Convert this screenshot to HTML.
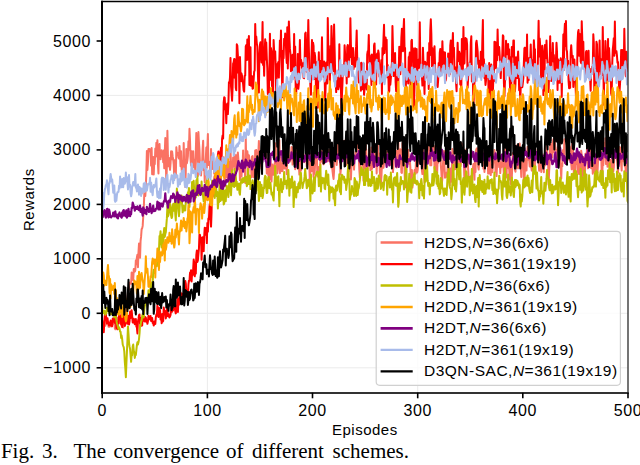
<!DOCTYPE html>
<html><head><meta charset="utf-8"><style>
html,body{margin:0;padding:0;background:#fff;}
body{width:640px;height:465px;position:relative;overflow:hidden;}
svg{position:absolute;left:0;top:0;}
.yl{position:absolute;right:549px;width:60px;text-align:right;font-family:"Liberation Sans",sans-serif;font-size:16px;letter-spacing:0.6px;line-height:19px;color:#000;}
.xl{position:absolute;top:400.5px;width:60px;text-align:center;font-family:"Liberation Sans",sans-serif;font-size:16px;letter-spacing:0.6px;line-height:19px;color:#000;}
.lt{position:absolute;left:424px;font-family:"Liberation Sans",sans-serif;font-size:15.5px;line-height:19px;color:#000;white-space:nowrap;letter-spacing:0.5px;}
.lt i{font-style:italic;}
.cw{position:absolute;top:439px;font-family:"Liberation Serif",serif;font-size:21px;line-height:24px;color:#000;white-space:nowrap;}
.lab{position:absolute;font-family:"Liberation Sans",sans-serif;font-size:15px;line-height:18px;color:#000;white-space:nowrap;}
</style></head><body>
<svg width="640" height="465" viewBox="0 0 640 465">
<defs><clipPath id="ax"><rect x="102.2" y="1.5" width="525.8" height="391.2"/></clipPath></defs>
<g stroke="#ebebeb" stroke-width="1">
<line x1="207.4" y1="1.5" x2="207.4" y2="392.7"/>
<line x1="417.7" y1="1.5" x2="417.7" y2="392.7"/>
<line x1="102.2" y1="367.8" x2="628" y2="367.8"/>
<line x1="102.2" y1="313.3" x2="628" y2="313.3"/>
<line x1="102.2" y1="258.8" x2="628" y2="258.8"/>
<line x1="102.2" y1="204.4" x2="628" y2="204.4"/>
<line x1="102.2" y1="95.4" x2="628" y2="95.4"/>
</g>
<g clip-path="url(#ax)" fill="none" stroke-linejoin="round" stroke-linecap="square">
<polyline points="102.20,322.4 102.73,321.7 103.25,321.3 103.78,329.3 104.30,324.0 104.83,320.2 105.35,325.8 105.88,322.9 106.41,321.4 106.93,323.3 107.46,322.0 107.98,323.5 108.51,326.7 109.04,325.8 109.56,326.8 110.09,322.4 110.61,323.0 111.14,323.2 111.66,326.4 112.19,321.6 112.72,323.7 113.24,323.8 113.77,319.4 114.29,319.2 114.82,328.3 115.34,329.3 115.87,324.9 116.40,324.2 116.92,321.9 117.45,322.7 117.97,317.7 118.50,320.1 119.03,323.4 119.55,316.9 120.08,317.4 120.60,316.9 121.13,323.1 121.65,326.2 122.18,323.5 122.71,322.3 123.23,327.5 123.76,323.4 124.28,323.7 124.81,320.1 125.34,317.0 125.86,311.3 126.39,308.5 126.91,302.6 127.44,298.0 127.96,292.0 128.49,287.8 129.02,289.8 129.54,282.8 130.07,282.6 130.59,282.1 131.12,283.7 131.64,272.5 132.17,273.7 132.70,278.4 133.22,280.3 133.75,269.0 134.27,271.7 134.80,271.5 135.33,270.3 135.85,260.3 136.38,264.2 136.90,257.2 137.43,254.7 137.95,267.2 138.48,252.3 139.01,243.6 139.53,248.3 140.06,257.8 140.58,240.8 141.11,236.4 141.63,229.1 142.16,228.4 142.69,225.9 143.21,217.0 143.74,210.5 144.26,194.5 144.79,186.5 145.32,195.9 145.84,186.5 146.37,171.2 146.89,150.9 147.42,170.0 147.94,162.6 148.47,149.0 149.00,151.4 149.52,149.0 150.05,149.5 150.57,152.0 151.10,165.6 151.63,148.0 152.15,174.3 152.68,167.4 153.20,156.9 153.73,174.5 154.25,161.9 154.78,164.3 155.31,148.5 155.83,156.6 156.36,142.8 156.88,145.8 157.41,140.3 157.93,164.2 158.46,173.5 158.99,145.3 159.51,144.0 160.04,157.7 160.56,159.3 161.09,152.9 161.62,150.3 162.14,156.6 162.67,152.8 163.19,162.2 163.72,150.5 164.24,168.2 164.77,152.6 165.30,138.0 165.82,162.9 166.35,183.9 166.87,166.0 167.40,130.8 167.93,155.9 168.45,166.3 168.98,157.9 169.50,164.5 170.03,169.8 170.55,163.4 171.08,151.3 171.61,159.3 172.13,151.5 172.66,156.4 173.18,159.1 173.71,164.5 174.23,176.4 174.76,160.2 175.29,170.7 175.81,177.6 176.34,147.2 176.86,153.1 177.39,154.1 177.92,153.0 178.44,157.5 178.97,158.5 179.49,145.9 180.02,155.9 180.54,166.2 181.07,151.3 181.60,168.5 182.12,176.0 182.65,161.0 183.17,174.8 183.70,143.0 184.22,166.9 184.75,161.5 185.28,186.9 185.80,170.4 186.33,148.9 186.85,163.4 187.38,160.3 187.91,156.0 188.43,141.2 188.96,149.7 189.48,128.8 190.01,140.4 190.53,158.2 191.06,165.6 191.59,151.3 192.11,162.5 192.64,159.1 193.16,151.2 193.69,167.2 194.22,159.6 194.74,162.1 195.27,171.6 195.79,151.5 196.32,132.9 196.84,154.7 197.37,146.5 197.90,176.0 198.42,132.0 198.95,142.3 199.47,150.0 200.00,164.6 200.52,163.2 201.05,175.5 201.58,165.3 202.10,163.1 202.63,149.0 203.15,140.8 203.68,170.2 204.21,162.5 204.73,182.3 205.26,163.2 205.78,159.1 206.31,147.6 206.83,167.7 207.36,148.4 207.89,134.1 208.41,165.1 208.94,161.6 209.46,163.2 209.99,165.0 210.51,176.4 211.04,149.1 211.57,168.0 212.09,169.0 212.62,161.1 213.14,163.8 213.67,165.7 214.20,173.6 214.72,167.2 215.25,171.2 215.77,163.2 216.30,172.2 216.82,165.7 217.35,164.5 217.88,161.5 218.40,154.6 218.93,156.0 219.45,160.7 219.98,169.9 220.50,170.9 221.03,173.9 221.56,161.7 222.08,162.3 222.61,165.8 223.13,168.0 223.66,157.3 224.19,169.0 224.71,186.5 225.24,163.0 225.76,158.9 226.29,177.6 226.81,153.4 227.34,170.8 227.87,178.2 228.39,163.3 228.92,164.0 229.44,161.8 229.97,175.4 230.50,150.9 231.02,162.8 231.55,175.7 232.07,169.8 232.60,170.1 233.12,157.5 233.65,166.5 234.18,160.6 234.70,154.8 235.23,168.5 235.75,156.9 236.28,155.4 236.80,167.1 237.33,157.0 237.86,152.6 238.38,159.1 238.91,169.5 239.43,162.8 239.96,180.1 240.49,174.6 241.01,165.9 241.54,176.6 242.06,164.1 242.59,167.0 243.11,150.4 243.64,166.1 244.17,169.0 244.69,161.8 245.22,183.1 245.74,136.0 246.27,166.1 246.80,166.0 247.32,151.2 247.85,156.4 248.37,176.9 248.90,155.2 249.42,158.6 249.95,167.3 250.48,161.6 251.00,164.1 251.53,177.3 252.05,156.7 252.58,156.0 253.10,163.1 253.63,177.3 254.16,168.7 254.68,176.4 255.21,150.5 255.73,155.1 256.26,150.1 256.79,164.3 257.31,153.4 257.84,159.8 258.36,152.6 258.89,140.9 259.41,156.1 259.94,165.4 260.47,161.3 260.99,164.9 261.52,168.6 262.04,165.0 262.57,158.0 263.09,155.1 263.62,156.3 264.15,158.5 264.67,146.4 265.20,153.2 265.72,142.7 266.25,157.5 266.78,173.5 267.30,158.8 267.83,162.8 268.35,175.3 268.88,167.5 269.40,179.8 269.93,155.1 270.46,158.6 270.98,167.5 271.51,181.6 272.03,169.1 272.56,164.6 273.09,170.4 273.61,174.8 274.14,166.7 274.66,164.7 275.19,158.4 275.71,143.2 276.24,163.5 276.77,159.6 277.29,173.3 277.82,169.3 278.34,164.6 278.87,151.5 279.39,140.2 279.92,173.2 280.45,157.4 280.97,171.1 281.50,162.9 282.02,171.3 282.55,170.9 283.08,160.5 283.60,162.9 284.13,154.4 284.65,168.6 285.18,164.9 285.70,162.9 286.23,160.8 286.76,174.3 287.28,156.2 287.81,161.8 288.33,144.8 288.86,157.7 289.38,155.4 289.91,161.7 290.44,158.2 290.96,159.4 291.49,147.1 292.01,147.2 292.54,164.6 293.07,163.8 293.59,158.7 294.12,149.6 294.64,153.6 295.17,169.3 295.69,156.8 296.22,144.3 296.75,150.1 297.27,162.8 297.80,168.6 298.32,149.3 298.85,165.3 299.38,174.6 299.90,166.8 300.43,158.6 300.95,170.7 301.48,152.2 302.00,159.1 302.53,148.8 303.06,155.6 303.58,154.9 304.11,162.3 304.63,158.3 305.16,158.3 305.68,158.3 306.21,146.3 306.74,166.4 307.26,163.8 307.79,157.0 308.31,161.8 308.84,161.8 309.37,167.1 309.89,182.5 310.42,167.3 310.94,153.4 311.47,171.3 311.99,156.0 312.52,171.0 313.05,159.5 313.57,176.9 314.10,143.0 314.62,173.8 315.15,161.9 315.67,152.5 316.20,140.7 316.73,150.5 317.25,171.1 317.78,176.4 318.30,167.0 318.83,173.4 319.36,168.9 319.88,174.2 320.41,158.6 320.93,150.9 321.46,161.5 321.98,150.5 322.51,158.4 323.04,163.2 323.56,164.3 324.09,159.8 324.61,156.3 325.14,153.7 325.67,159.4 326.19,145.6 326.72,161.5 327.24,155.9 327.77,161.2 328.29,150.4 328.82,159.7 329.35,149.6 329.87,149.2 330.40,163.9 330.92,165.2 331.45,167.8 331.97,163.5 332.50,170.9 333.03,175.5 333.55,178.9 334.08,171.0 334.60,152.2 335.13,144.2 335.66,149.6 336.18,153.8 336.71,165.0 337.23,157.5 337.76,146.9 338.28,140.9 338.81,149.8 339.34,154.3 339.86,155.0 340.39,174.6 340.91,168.2 341.44,157.1 341.96,158.0 342.49,142.9 343.02,151.6 343.54,141.3 344.07,142.4 344.59,153.5 345.12,140.4 345.65,148.9 346.17,156.7 346.70,164.8 347.22,155.7 347.75,158.4 348.27,162.7 348.80,159.7 349.33,150.2 349.85,170.9 350.38,167.1 350.90,179.4 351.43,166.6 351.96,161.2 352.48,157.5 353.01,159.5 353.53,159.7 354.06,169.6 354.58,159.0 355.11,157.9 355.64,151.6 356.16,152.6 356.69,135.4 357.21,146.8 357.74,144.9 358.26,146.0 358.79,157.4 359.32,169.2 359.84,177.7 360.37,158.9 360.89,156.5 361.42,162.9 361.95,159.9 362.47,165.2 363.00,155.0 363.52,180.7 364.05,163.8 364.57,161.2 365.10,168.2 365.63,138.7 366.15,155.1 366.68,167.1 367.20,181.0 367.73,159.7 368.25,166.1 368.78,149.3 369.31,151.4 369.83,150.5 370.36,170.2 370.88,167.5 371.41,147.4 371.94,168.9 372.46,167.5 372.99,162.1 373.51,156.8 374.04,152.3 374.56,145.6 375.09,165.7 375.62,154.8 376.14,154.3 376.67,173.4 377.19,151.2 377.72,138.5 378.25,157.7 378.77,161.3 379.30,153.6 379.82,171.2 380.35,179.4 380.87,185.6 381.40,177.1 381.93,165.1 382.45,155.7 382.98,160.9 383.50,167.7 384.03,162.6 384.55,137.4 385.08,145.1 385.61,143.6 386.13,147.2 386.66,151.9 387.18,158.1 387.71,158.6 388.24,157.9 388.76,151.2 389.29,152.1 389.81,165.3 390.34,162.1 390.86,154.6 391.39,162.2 391.92,164.7 392.44,165.0 392.97,172.1 393.49,165.4 394.02,143.6 394.54,143.0 395.07,155.0 395.60,153.2 396.12,151.0 396.65,167.4 397.17,160.4 397.70,150.3 398.23,135.8 398.75,158.0 399.28,164.0 399.80,162.2 400.33,149.3 400.85,153.7 401.38,172.5 401.91,172.9 402.43,143.6 402.96,141.8 403.48,147.8 404.01,155.6 404.54,170.1 405.06,187.5 405.59,186.1 406.11,176.4 406.64,163.0 407.16,153.7 407.69,161.4 408.22,150.1 408.74,155.8 409.27,163.9 409.79,158.7 410.32,167.1 410.84,181.4 411.37,185.5 411.90,169.9 412.42,187.6 412.95,177.8 413.47,175.1 414.00,182.8 414.53,170.4 415.05,169.6 415.58,173.8 416.10,154.4 416.63,151.6 417.15,172.6 417.68,170.1 418.21,162.2 418.73,145.1 419.26,149.8 419.78,154.6 420.31,150.8 420.83,151.6 421.36,158.0 421.89,170.0 422.41,174.0 422.94,144.4 423.46,165.1 423.99,169.9 424.52,182.5 425.04,163.2 425.57,158.6 426.09,155.8 426.62,145.1 427.14,153.5 427.67,155.1 428.20,141.9 428.72,142.5 429.25,160.7 429.77,159.2 430.30,165.3 430.82,157.5 431.35,165.2 431.88,135.0 432.40,135.0 432.93,155.2 433.45,150.1 433.98,146.1 434.51,168.1 435.03,170.4 435.56,154.1 436.08,161.3 436.61,170.2 437.13,173.0 437.66,159.0 438.19,162.9 438.71,158.6 439.24,153.5 439.76,156.9 440.29,143.7 440.82,165.5 441.34,171.7 441.87,183.4 442.39,178.1 442.92,165.2 443.44,156.9 443.97,150.9 444.50,166.4 445.02,177.7 445.55,174.8 446.07,174.3 446.60,172.4 447.12,177.2 447.65,166.8 448.18,153.6 448.70,175.3 449.23,171.6 449.75,185.7 450.28,168.6 450.81,169.9 451.33,181.7 451.86,167.9 452.38,149.1 452.91,161.8 453.43,151.8 453.96,158.3 454.49,169.5 455.01,164.9 455.54,162.3 456.06,169.0 456.59,158.6 457.12,159.1 457.64,164.7 458.17,158.2 458.69,163.7 459.22,152.1 459.74,164.3 460.27,155.3 460.80,165.9 461.32,143.0 461.85,156.4 462.37,144.2 462.90,157.4 463.42,159.2 463.95,164.5 464.48,183.4 465.00,179.7 465.53,163.7 466.05,152.3 466.58,148.8 467.11,159.6 467.63,160.9 468.16,169.1 468.68,177.5 469.21,178.9 469.73,179.0 470.26,179.5 470.79,176.3 471.31,187.2 471.84,186.3 472.36,169.3 472.89,168.2 473.41,164.0 473.94,165.4 474.47,179.7 474.99,154.2 475.52,172.0 476.04,150.4 476.57,148.9 477.10,148.2 477.62,156.9 478.15,166.5 478.67,169.6 479.20,160.8 479.72,155.7 480.25,150.1 480.78,146.6 481.30,143.2 481.83,156.0 482.35,143.6 482.88,164.1 483.41,168.6 483.93,162.7 484.46,172.0 484.98,162.7 485.51,151.9 486.03,142.2 486.56,154.1 487.09,149.9 487.61,157.3 488.14,173.6 488.66,163.1 489.19,158.5 489.71,173.5 490.24,157.2 490.77,175.1 491.29,164.8 491.82,171.4 492.34,172.1 492.87,165.7 493.40,161.2 493.92,156.3 494.45,150.0 494.97,154.2 495.50,171.7 496.02,167.0 496.55,176.1 497.08,163.7 497.60,149.0 498.13,150.0 498.65,160.1 499.18,167.1 499.70,158.5 500.23,173.1 500.76,164.8 501.28,167.3 501.81,162.1 502.33,166.4 502.86,154.3 503.39,165.1 503.91,175.1 504.44,163.7 504.96,152.6 505.49,147.9 506.01,158.8 506.54,177.4 507.07,150.7 507.59,151.1 508.12,156.5 508.64,168.5 509.17,168.7 509.70,179.6 510.22,165.2 510.75,184.0 511.27,176.5 511.80,179.4 512.32,162.6 512.85,153.1 513.38,153.5 513.90,153.8 514.43,157.0 514.95,169.9 515.48,171.7 516.00,156.6 516.53,160.8 517.06,145.2 517.58,166.3 518.11,168.4 518.63,165.5 519.16,148.7 519.69,143.5 520.21,154.6 520.74,166.1 521.26,176.9 521.79,159.1 522.31,159.3 522.84,165.6 523.37,157.7 523.89,186.9 524.42,187.0 524.94,164.5 525.47,158.9 525.99,161.1 526.52,170.5 527.05,154.5 527.57,146.7 528.10,159.8 528.62,153.3 529.15,159.4 529.68,166.4 530.20,156.4 530.73,159.3 531.25,166.1 531.78,170.6 532.30,164.1 532.83,169.1 533.36,157.5 533.88,151.4 534.41,152.9 534.93,165.9 535.46,159.0 535.99,154.5 536.51,158.3 537.04,155.0 537.56,149.3 538.09,154.2 538.61,162.1 539.14,170.8 539.67,162.2 540.19,149.3 540.72,149.3 541.24,171.9 541.77,162.5 542.29,166.2 542.82,166.2 543.35,162.7 543.87,172.3 544.40,153.9 544.92,165.4 545.45,151.5 545.98,155.1 546.50,143.9 547.03,148.6 547.55,161.1 548.08,160.8 548.60,184.7 549.13,171.5 549.66,162.5 550.18,144.4 550.71,143.1 551.23,159.7 551.76,154.6 552.28,157.2 552.81,142.8 553.34,139.2 553.86,152.2 554.39,134.4 554.91,140.8 555.44,147.3 555.97,150.2 556.49,150.2 557.02,150.0 557.54,165.1 558.07,146.9 558.59,158.3 559.12,143.6 559.65,142.1 560.17,165.4 560.70,166.8 561.22,178.6 561.75,163.4 562.28,166.1 562.80,150.3 563.33,157.7 563.85,155.2 564.38,139.3 564.90,163.0 565.43,161.6 565.96,161.0 566.48,164.1 567.01,161.1 567.53,147.3 568.06,143.7 568.58,141.3 569.11,159.7 569.64,146.3 570.16,148.4 570.69,162.2 571.21,163.4 571.74,169.3 572.27,138.7 572.79,142.8 573.32,159.4 573.84,173.3 574.37,158.0 574.89,173.4 575.42,173.1 575.95,154.7 576.47,163.9 577.00,149.1 577.52,152.8 578.05,172.8 578.57,164.0 579.10,174.1 579.63,167.1 580.15,156.6 580.68,170.9 581.20,150.7 581.73,155.2 582.26,179.8 582.78,158.1 583.31,157.1 583.83,175.1 584.36,161.6 584.88,179.0 585.41,153.7 585.94,157.9 586.46,159.3 586.99,148.3 587.51,161.8 588.04,168.3 588.57,147.8 589.09,154.8 589.62,151.4 590.14,149.2 590.67,161.5 591.19,168.2 591.72,155.4 592.25,157.8 592.77,173.7 593.30,167.9 593.82,172.1 594.35,163.1 594.87,163.2 595.40,158.6 595.93,172.6 596.45,160.3 596.98,159.1 597.50,172.1 598.03,162.0 598.56,156.8 599.08,153.4 599.61,138.2 600.13,147.7 600.66,143.2 601.18,152.7 601.71,174.1 602.24,176.7 602.76,160.4 603.29,165.1 603.81,152.7 604.34,142.7 604.86,154.5 605.39,138.3 605.92,163.9 606.44,151.1 606.97,153.7 607.49,166.7 608.02,160.1 608.55,163.1 609.07,154.8 609.60,168.1 610.12,164.1 610.65,160.1 611.17,168.9 611.70,167.0 612.23,174.2 612.75,154.3 613.28,171.3 613.80,167.4 614.33,157.0 614.86,150.3 615.38,155.5 615.91,147.1 616.43,134.2 616.96,157.9 617.48,166.3 618.01,172.6 618.54,161.9 619.06,151.9 619.59,147.1 620.11,147.4 620.64,157.8 621.16,164.1 621.69,170.6 622.22,138.5 622.74,141.5 623.27,150.0 623.79,161.5 624.32,160.9 624.85,166.3 625.37,163.3 625.90,180.3 626.42,167.4 626.95,165.7 627.47,161.2 628.00,155.6" stroke="#fa7263" stroke-width="2.0"/>
<polyline points="102.20,325.8 102.73,324.6 103.25,322.5 103.78,332.3 104.30,321.3 104.83,315.0 105.35,319.7 105.88,314.4 106.41,320.4 106.93,323.5 107.46,318.2 107.98,321.7 108.51,322.7 109.04,325.6 109.56,322.8 110.09,325.0 110.61,320.6 111.14,325.7 111.66,323.7 112.19,326.2 112.72,318.8 113.24,318.3 113.77,321.4 114.29,318.3 114.82,322.8 115.34,319.6 115.87,315.3 116.40,327.9 116.92,327.9 117.45,329.3 117.97,321.7 118.50,323.1 119.03,314.0 119.55,313.9 120.08,318.1 120.60,319.0 121.13,324.4 121.65,315.8 122.18,327.1 122.71,322.7 123.23,319.9 123.76,313.5 124.28,317.7 124.81,325.9 125.34,324.0 125.86,317.2 126.39,320.4 126.91,316.1 127.44,323.7 127.96,317.6 128.49,315.7 129.02,324.5 129.54,321.3 130.07,311.5 130.59,317.9 131.12,315.8 131.64,310.3 132.17,316.2 132.70,322.4 133.22,322.4 133.75,318.7 134.27,322.5 134.80,324.1 135.33,321.8 135.85,319.0 136.38,326.4 136.90,327.7 137.43,333.5 137.95,321.5 138.48,318.9 139.01,315.2 139.53,314.6 140.06,324.0 140.58,317.9 141.11,318.6 141.63,325.8 142.16,325.4 142.69,317.8 143.21,319.3 143.74,316.9 144.26,321.0 144.79,321.4 145.32,317.1 145.84,317.6 146.37,321.8 146.89,320.8 147.42,323.8 147.94,321.2 148.47,315.7 149.00,316.5 149.52,317.0 150.05,319.5 150.57,316.1 151.10,321.0 151.63,318.0 152.15,318.1 152.68,323.0 153.20,322.8 153.73,325.6 154.25,321.6 154.78,324.2 155.31,323.9 155.83,317.1 156.36,314.6 156.88,315.8 157.41,305.3 157.93,313.2 158.46,316.9 158.99,307.7 159.51,315.9 160.04,310.0 160.56,319.5 161.09,315.1 161.62,323.3 162.14,314.1 162.67,321.7 163.19,321.0 163.72,307.5 164.24,310.8 164.77,310.6 165.30,313.9 165.82,318.4 166.35,314.7 166.87,309.5 167.40,307.6 167.93,316.3 168.45,314.0 168.98,316.5 169.50,317.4 170.03,316.3 170.55,315.0 171.08,308.0 171.61,304.3 172.13,311.7 172.66,310.3 173.18,310.3 173.71,297.0 174.23,303.7 174.76,303.4 175.29,311.4 175.81,313.4 176.34,305.9 176.86,311.6 177.39,299.4 177.92,312.0 178.44,298.5 178.97,304.7 179.49,296.5 180.02,298.2 180.54,292.7 181.07,301.1 181.60,293.8 182.12,300.0 182.65,298.4 183.17,293.4 183.70,295.5 184.22,289.1 184.75,283.1 185.28,280.9 185.80,283.6 186.33,292.7 186.85,289.6 187.38,293.1 187.91,297.3 188.43,284.6 188.96,280.7 189.48,280.7 190.01,272.8 190.53,272.5 191.06,270.2 191.59,281.5 192.11,273.0 192.64,275.2 193.16,269.3 193.69,259.6 194.22,263.2 194.74,276.3 195.27,271.8 195.79,273.6 196.32,255.2 196.84,250.5 197.37,261.9 197.90,260.2 198.42,254.0 198.95,248.6 199.47,234.6 200.00,235.1 200.52,240.2 201.05,237.7 201.58,259.8 202.10,244.2 202.63,237.2 203.15,237.9 203.68,251.3 204.21,236.2 204.73,227.7 205.26,228.4 205.78,234.7 206.31,228.1 206.83,243.1 207.36,223.1 207.89,231.6 208.41,218.6 208.94,219.2 209.46,206.9 209.99,202.7 210.51,218.4 211.04,226.6 211.57,212.1 212.09,188.9 212.62,196.6 213.14,187.9 213.67,188.0 214.20,181.3 214.72,175.9 215.25,179.2 215.77,185.8 216.30,166.9 216.82,158.1 217.35,168.7 217.88,154.8 218.40,151.5 218.93,161.7 219.45,174.1 219.98,152.5 220.50,152.4 221.03,147.5 221.56,162.7 222.08,138.8 222.61,135.5 223.13,138.5 223.66,102.6 224.19,97.3 224.71,97.8 225.24,109.3 225.76,107.4 226.29,123.2 226.81,104.8 227.34,103.5 227.87,114.1 228.39,104.3 228.92,82.2 229.44,83.1 229.97,77.7 230.50,57.9 231.02,86.5 231.55,92.4 232.07,100.7 232.60,87.0 233.12,63.6 233.65,62.3 234.18,58.9 234.70,77.7 235.23,59.5 235.75,87.8 236.28,90.2 236.80,44.3 237.33,45.6 237.86,54.7 238.38,72.7 238.91,62.0 239.43,103.3 239.96,57.0 240.49,74.0 241.01,81.1 241.54,73.6 242.06,75.9 242.59,81.7 243.11,83.8 243.64,90.4 244.17,91.6 244.69,75.9 245.22,75.5 245.74,46.4 246.27,45.1 246.80,60.1 247.32,39.4 247.85,59.2 248.37,47.5 248.90,36.0 249.42,85.0 249.95,59.8 250.48,47.2 251.00,85.7 251.53,81.7 252.05,76.3 252.58,88.7 253.10,88.2 253.63,79.9 254.16,71.6 254.68,70.5 255.21,23.9 255.73,42.9 256.26,36.5 256.79,43.3 257.31,46.7 257.84,70.3 258.36,89.2 258.89,92.5 259.41,53.9 259.94,44.7 260.47,42.3 260.99,54.6 261.52,62.5 262.04,51.2 262.57,22.0 263.09,65.0 263.62,57.4 264.15,75.8 264.67,51.5 265.20,39.2 265.72,59.4 266.25,42.6 266.78,57.9 267.30,68.0 267.83,93.9 268.35,84.6 268.88,92.6 269.40,69.7 269.93,33.8 270.46,79.8 270.98,48.1 271.51,51.2 272.03,86.3 272.56,65.7 273.09,96.5 273.61,40.0 274.14,51.5 274.66,51.2 275.19,51.4 275.71,67.0 276.24,98.1 276.77,77.4 277.29,63.9 277.82,63.8 278.34,62.1 278.87,77.6 279.39,59.1 279.92,40.4 280.45,55.4 280.97,30.6 281.50,58.2 282.02,80.2 282.55,97.2 283.08,50.7 283.60,58.3 284.13,38.8 284.65,44.3 285.18,33.6 285.70,37.4 286.23,54.6 286.76,62.9 287.28,27.3 287.81,68.6 288.33,46.4 288.86,21.4 289.38,37.6 289.91,48.4 290.44,53.8 290.96,71.3 291.49,68.5 292.01,68.5 292.54,54.7 293.07,78.9 293.59,76.5 294.12,34.1 294.64,71.4 295.17,46.4 295.69,88.8 296.22,93.8 296.75,69.7 297.27,78.8 297.80,54.1 298.32,88.8 298.85,83.9 299.38,66.5 299.90,40.1 300.43,64.7 300.95,59.7 301.48,62.3 302.00,68.2 302.53,68.3 303.06,63.3 303.58,77.9 304.11,78.2 304.63,59.5 305.16,33.7 305.68,32.6 306.21,47.8 306.74,71.8 307.26,51.3 307.79,46.6 308.31,20.0 308.84,46.9 309.37,69.6 309.89,72.6 310.42,86.1 310.94,94.8 311.47,57.0 311.99,39.9 312.52,70.0 313.05,42.7 313.57,45.9 314.10,79.1 314.62,52.8 315.15,56.8 315.67,71.3 316.20,107.3 316.73,62.3 317.25,84.8 317.78,107.8 318.30,77.8 318.83,52.2 319.36,77.3 319.88,60.8 320.41,67.4 320.93,78.4 321.46,67.7 321.98,37.3 322.51,74.1 323.04,67.1 323.56,76.7 324.09,61.5 324.61,75.1 325.14,100.7 325.67,85.0 326.19,62.5 326.72,63.0 327.24,83.5 327.77,18.0 328.29,48.5 328.82,53.5 329.35,55.5 329.87,83.5 330.40,46.0 330.92,62.8 331.45,26.1 331.97,40.1 332.50,69.7 333.03,58.2 333.55,71.3 334.08,24.5 334.60,48.3 335.13,72.0 335.66,80.0 336.18,92.1 336.71,81.2 337.23,77.8 337.76,87.2 338.28,89.3 338.81,86.6 339.34,44.2 339.86,86.2 340.39,69.1 340.91,88.9 341.44,108.1 341.96,94.9 342.49,82.8 343.02,65.6 343.54,64.6 344.07,70.6 344.59,45.2 345.12,53.7 345.65,62.9 346.17,61.0 346.70,83.5 347.22,47.3 347.75,44.9 348.27,70.9 348.80,76.8 349.33,45.9 349.85,57.2 350.38,18.3 350.90,44.6 351.43,52.6 351.96,64.1 352.48,58.2 353.01,47.9 353.53,69.1 354.06,64.6 354.58,57.8 355.11,66.6 355.64,51.9 356.16,46.4 356.69,30.5 357.21,58.8 357.74,63.0 358.26,73.6 358.79,82.5 359.32,80.6 359.84,63.2 360.37,64.1 360.89,90.7 361.42,62.7 361.95,74.8 362.47,89.3 363.00,71.2 363.52,63.4 364.05,94.8 364.57,88.4 365.10,71.7 365.63,81.3 366.15,77.6 366.68,89.5 367.20,54.3 367.73,51.2 368.25,52.0 368.78,34.9 369.31,62.8 369.83,55.3 370.36,73.6 370.88,66.2 371.41,85.0 371.94,54.5 372.46,63.5 372.99,68.5 373.51,81.1 374.04,45.2 374.56,43.4 375.09,60.5 375.62,84.5 376.14,84.6 376.67,54.8 377.19,53.5 377.72,66.0 378.25,50.6 378.77,53.7 379.30,76.4 379.82,68.3 380.35,71.1 380.87,65.9 381.40,60.1 381.93,93.9 382.45,48.0 382.98,54.6 383.50,38.0 384.03,24.7 384.55,53.0 385.08,42.7 385.61,37.4 386.13,49.0 386.66,39.8 387.18,77.2 387.71,65.0 388.24,69.7 388.76,92.0 389.29,91.0 389.81,69.0 390.34,84.7 390.86,78.1 391.39,69.3 391.92,62.8 392.44,26.1 392.97,48.8 393.49,76.1 394.02,63.6 394.54,66.7 395.07,53.1 395.60,82.0 396.12,91.1 396.65,77.2 397.17,78.0 397.70,103.7 398.23,85.0 398.75,69.1 399.28,46.7 399.80,49.0 400.33,74.2 400.85,55.5 401.38,37.6 401.91,28.7 402.43,48.4 402.96,51.2 403.48,29.7 404.01,19.0 404.54,49.4 405.06,47.9 405.59,92.1 406.11,79.2 406.64,73.7 407.16,81.1 407.69,75.2 408.22,83.5 408.74,56.9 409.27,58.1 409.79,52.5 410.32,78.6 410.84,93.2 411.37,40.9 411.90,39.8 412.42,61.6 412.95,48.3 413.47,76.3 414.00,107.3 414.53,87.2 415.05,48.2 415.58,71.6 416.10,76.3 416.63,49.0 417.15,84.9 417.68,60.5 418.21,59.8 418.73,68.0 419.26,63.3 419.78,22.2 420.31,62.0 420.83,69.8 421.36,69.5 421.89,75.3 422.41,85.6 422.94,47.7 423.46,62.8 423.99,77.6 424.52,94.0 425.04,61.7 425.57,62.9 426.09,77.6 426.62,65.0 427.14,76.4 427.67,52.7 428.20,52.2 428.72,89.0 429.25,42.9 429.77,55.3 430.30,30.2 430.82,19.3 431.35,34.0 431.88,66.3 432.40,48.1 432.93,65.7 433.45,55.7 433.98,66.7 434.51,46.3 435.03,64.5 435.56,85.7 436.08,73.5 436.61,79.6 437.13,76.4 437.66,86.9 438.19,79.6 438.71,63.1 439.24,71.1 439.76,52.7 440.29,49.0 440.82,57.9 441.34,72.4 441.87,60.6 442.39,41.2 442.92,57.0 443.44,64.1 443.97,52.3 444.50,52.5 445.02,52.5 445.55,80.7 446.07,78.5 446.60,65.5 447.12,70.5 447.65,69.8 448.18,53.4 448.70,64.8 449.23,73.7 449.75,74.2 450.28,45.7 450.81,40.4 451.33,63.7 451.86,70.6 452.38,46.4 452.91,33.1 453.43,56.2 453.96,47.8 454.49,72.0 455.01,71.7 455.54,67.4 456.06,83.0 456.59,91.2 457.12,63.7 457.64,42.8 458.17,61.3 458.69,59.7 459.22,51.7 459.74,53.5 460.27,84.5 460.80,81.7 461.32,88.3 461.85,39.1 462.37,53.2 462.90,70.2 463.42,27.0 463.95,56.8 464.48,63.4 465.00,43.9 465.53,38.1 466.05,48.9 466.58,39.0 467.11,44.9 467.63,87.6 468.16,78.0 468.68,65.3 469.21,68.4 469.73,62.6 470.26,66.4 470.79,42.9 471.31,36.3 471.84,81.5 472.36,76.7 472.89,79.0 473.41,109.7 473.94,91.2 474.47,82.3 474.99,80.0 475.52,72.4 476.04,43.1 476.57,40.7 477.10,45.8 477.62,51.1 478.15,64.0 478.67,60.6 479.20,74.2 479.72,64.7 480.25,74.7 480.78,51.7 481.30,52.6 481.83,64.7 482.35,40.4 482.88,20.0 483.41,70.7 483.93,59.3 484.46,77.9 484.98,75.2 485.51,84.9 486.03,80.5 486.56,70.4 487.09,72.8 487.61,67.4 488.14,68.9 488.66,100.1 489.19,63.0 489.71,78.6 490.24,98.6 490.77,73.0 491.29,64.6 491.82,99.7 492.34,82.7 492.87,92.7 493.40,76.0 493.92,81.3 494.45,41.7 494.97,45.8 495.50,42.2 496.02,68.2 496.55,50.3 497.08,60.3 497.60,29.4 498.13,51.2 498.65,54.8 499.18,47.0 499.70,55.6 500.23,68.1 500.76,78.1 501.28,62.1 501.81,65.3 502.33,53.0 502.86,35.3 503.39,36.2 503.91,83.0 504.44,96.5 504.96,81.5 505.49,67.2 506.01,40.7 506.54,49.6 507.07,54.3 507.59,49.3 508.12,44.0 508.64,59.7 509.17,49.2 509.70,77.9 510.22,92.8 510.75,56.9 511.27,87.4 511.80,46.9 512.32,50.6 512.85,56.6 513.38,40.5 513.90,40.6 514.43,84.5 514.95,91.5 515.48,82.9 516.00,57.3 516.53,71.3 517.06,78.1 517.58,60.9 518.11,51.5 518.63,68.2 519.16,90.3 519.69,78.2 520.21,104.5 520.74,86.0 521.26,86.7 521.79,83.6 522.31,87.2 522.84,82.8 523.37,77.9 523.89,62.0 524.42,48.1 524.94,47.6 525.47,59.4 525.99,72.6 526.52,67.8 527.05,34.4 527.57,82.7 528.10,58.1 528.62,80.3 529.15,70.7 529.68,58.0 530.20,62.4 530.73,44.5 531.25,63.2 531.78,59.9 532.30,63.1 532.83,67.5 533.36,65.2 533.88,40.3 534.41,50.7 534.93,49.1 535.46,82.2 535.99,79.1 536.51,86.0 537.04,75.8 537.56,83.6 538.09,46.7 538.61,20.7 539.14,56.4 539.67,38.6 540.19,45.5 540.72,64.9 541.24,82.3 541.77,56.5 542.29,45.7 542.82,50.5 543.35,95.1 543.87,87.1 544.40,90.8 544.92,45.0 545.45,50.0 545.98,57.9 546.50,40.6 547.03,56.2 547.55,63.2 548.08,63.3 548.60,92.0 549.13,72.6 549.66,65.8 550.18,36.3 550.71,73.0 551.23,80.9 551.76,52.7 552.28,59.1 552.81,42.9 553.34,61.5 553.86,54.9 554.39,68.5 554.91,73.8 555.44,70.6 555.97,59.4 556.49,42.8 557.02,52.0 557.54,89.9 558.07,59.3 558.59,61.1 559.12,82.8 559.65,82.8 560.17,65.8 560.70,58.3 561.22,60.9 561.75,97.1 562.28,66.8 562.80,65.1 563.33,34.5 563.85,70.1 564.38,34.1 564.90,23.7 565.43,46.0 565.96,21.0 566.48,49.5 567.01,51.8 567.53,66.4 568.06,60.8 568.58,81.1 569.11,88.2 569.64,88.0 570.16,87.8 570.69,52.5 571.21,45.2 571.74,54.5 572.27,57.3 572.79,55.9 573.32,86.9 573.84,71.9 574.37,59.5 574.89,69.6 575.42,80.7 575.95,96.7 576.47,87.4 577.00,79.4 577.52,43.4 578.05,32.2 578.57,29.9 579.10,55.7 579.63,33.8 580.15,42.1 580.68,61.7 581.20,63.2 581.73,21.2 582.26,38.4 582.78,66.4 583.31,41.7 583.83,67.8 584.36,63.4 584.88,67.7 585.41,79.5 585.94,52.2 586.46,51.0 586.99,62.2 587.51,61.8 588.04,73.8 588.57,50.8 589.09,72.2 589.62,78.6 590.14,78.7 590.67,90.7 591.19,68.7 591.72,73.0 592.25,66.7 592.77,69.5 593.30,34.2 593.82,43.0 594.35,97.3 594.87,86.5 595.40,90.9 595.93,64.6 596.45,41.8 596.98,44.1 597.50,93.8 598.03,72.3 598.56,78.0 599.08,57.5 599.61,40.5 600.13,71.3 600.66,59.0 601.18,74.3 601.71,64.4 602.24,75.1 602.76,27.0 603.29,58.3 603.81,104.7 604.34,61.1 604.86,70.0 605.39,41.0 605.92,65.6 606.44,83.0 606.97,56.0 607.49,54.4 608.02,38.9 608.55,81.1 609.07,48.0 609.60,60.3 610.12,67.3 610.65,71.1 611.17,93.5 611.70,95.6 612.23,64.1 612.75,49.7 613.28,44.6 613.80,38.2 614.33,55.7 614.86,21.6 615.38,52.7 615.91,52.5 616.43,51.2 616.96,55.7 617.48,62.7 618.01,62.0 618.54,75.1 619.06,86.5 619.59,91.2 620.11,82.3 620.64,74.3 621.16,50.0 621.69,78.7 622.22,50.1 622.74,58.8 623.27,67.5 623.79,65.8 624.32,28.7 624.85,55.5 625.37,72.4 625.90,76.3 626.42,51.8 626.95,74.2 627.47,72.6 628.00,64.4" stroke="#ff0000" stroke-width="2.0"/>
<polyline points="102.20,306.4 102.73,313.2 103.25,311.4 103.78,313.1 104.30,310.8 104.83,311.1 105.35,314.8 105.88,312.8 106.41,313.2 106.93,307.7 107.46,309.2 107.98,310.7 108.51,311.2 109.04,311.7 109.56,313.8 110.09,314.1 110.61,312.4 111.14,314.1 111.66,313.4 112.19,313.2 112.72,315.0 113.24,312.8 113.77,313.5 114.29,317.3 114.82,316.9 115.34,317.5 115.87,316.6 116.40,320.1 116.92,323.6 117.45,324.6 117.97,327.0 118.50,329.1 119.03,327.3 119.55,328.8 120.08,331.6 120.60,331.9 121.13,337.9 121.65,335.6 122.18,339.2 122.71,344.5 123.23,346.0 123.76,347.4 124.28,351.4 124.81,361.8 125.34,368.4 125.86,377.3 126.39,363.6 126.91,352.1 127.44,340.6 127.96,326.4 128.49,333.5 129.02,342.6 129.54,346.5 130.07,348.9 130.59,355.4 131.12,361.8 131.64,354.3 132.17,355.3 132.70,346.3 133.22,344.5 133.75,350.5 134.27,352.5 134.80,357.9 135.33,353.9 135.85,355.0 136.38,350.0 136.90,345.1 137.43,342.3 137.95,344.6 138.48,342.3 139.01,339.1 139.53,333.4 140.06,325.0 140.58,325.4 141.11,321.4 141.63,320.5 142.16,316.1 142.69,314.2 143.21,314.1 143.74,317.4 144.26,310.1 144.79,306.2 145.32,304.7 145.84,300.3 146.37,299.3 146.89,300.7 147.42,300.4 147.94,300.1 148.47,290.3 149.00,296.1 149.52,294.6 150.05,290.0 150.57,288.1 151.10,282.4 151.63,284.5 152.15,288.3 152.68,282.3 153.20,272.7 153.73,269.7 154.25,272.9 154.78,273.0 155.31,264.6 155.83,265.8 156.36,264.7 156.88,266.2 157.41,259.5 157.93,259.7 158.46,251.5 158.99,250.2 159.51,236.1 160.04,237.1 160.56,231.2 161.09,243.2 161.62,247.4 162.14,241.4 162.67,234.5 163.19,246.3 163.72,232.8 164.24,228.1 164.77,236.9 165.30,234.0 165.82,232.2 166.35,225.1 166.87,218.4 167.40,206.0 167.93,216.5 168.45,215.1 168.98,212.3 169.50,201.5 170.03,204.3 170.55,205.4 171.08,215.4 171.61,218.1 172.13,216.9 172.66,207.5 173.18,204.0 173.71,207.5 174.23,210.8 174.76,202.5 175.29,214.2 175.81,220.4 176.34,204.3 176.86,188.6 177.39,196.6 177.92,205.8 178.44,211.3 178.97,216.2 179.49,210.3 180.02,201.5 180.54,200.4 181.07,202.2 181.60,195.5 182.12,205.4 182.65,212.3 183.17,205.5 183.70,205.8 184.22,210.6 184.75,210.6 185.28,210.4 185.80,201.4 186.33,195.9 186.85,199.4 187.38,202.5 187.91,192.3 188.43,192.6 188.96,188.0 189.48,206.9 190.01,195.4 190.53,196.5 191.06,197.9 191.59,190.7 192.11,181.9 192.64,188.6 193.16,194.6 193.69,180.7 194.22,190.9 194.74,195.4 195.27,189.4 195.79,197.5 196.32,180.3 196.84,183.4 197.37,176.2 197.90,189.4 198.42,195.4 198.95,192.0 199.47,189.8 200.00,192.9 200.52,191.7 201.05,194.2 201.58,181.6 202.10,193.9 202.63,190.3 203.15,196.9 203.68,201.3 204.21,201.0 204.73,202.6 205.26,192.8 205.78,184.7 206.31,182.3 206.83,181.3 207.36,177.9 207.89,177.7 208.41,182.1 208.94,191.5 209.46,199.9 209.99,186.6 210.51,201.0 211.04,187.9 211.57,189.4 212.09,180.6 212.62,188.2 213.14,193.0 213.67,190.6 214.20,191.3 214.72,197.9 215.25,189.7 215.77,187.1 216.30,189.7 216.82,196.1 217.35,192.0 217.88,208.5 218.40,200.5 218.93,202.4 219.45,187.6 219.98,176.6 220.50,201.0 221.03,189.0 221.56,196.4 222.08,199.7 222.61,189.2 223.13,188.4 223.66,204.4 224.19,203.7 224.71,192.0 225.24,190.2 225.76,201.2 226.29,191.9 226.81,185.7 227.34,193.8 227.87,193.4 228.39,197.0 228.92,186.5 229.44,178.9 229.97,183.7 230.50,190.4 231.02,195.2 231.55,184.2 232.07,170.3 232.60,184.0 233.12,186.0 233.65,184.5 234.18,187.0 234.70,168.9 235.23,186.0 235.75,175.6 236.28,183.7 236.80,181.8 237.33,189.8 237.86,184.1 238.38,186.9 238.91,183.5 239.43,192.9 239.96,194.8 240.49,185.4 241.01,182.0 241.54,179.2 242.06,179.3 242.59,182.7 243.11,177.9 243.64,181.9 244.17,181.4 244.69,179.4 245.22,177.0 245.74,176.6 246.27,181.4 246.80,186.2 247.32,184.3 247.85,169.1 248.37,180.4 248.90,184.0 249.42,183.9 249.95,175.5 250.48,189.1 251.00,182.6 251.53,184.0 252.05,185.3 252.58,180.3 253.10,182.6 253.63,183.8 254.16,186.8 254.68,196.8 255.21,190.6 255.73,178.9 256.26,190.7 256.79,172.7 257.31,176.7 257.84,174.6 258.36,186.0 258.89,201.0 259.41,195.8 259.94,182.1 260.47,191.7 260.99,196.0 261.52,184.8 262.04,192.3 262.57,198.1 263.09,194.8 263.62,187.4 264.15,188.1 264.67,178.1 265.20,175.8 265.72,176.5 266.25,187.8 266.78,193.1 267.30,192.9 267.83,181.1 268.35,176.9 268.88,177.2 269.40,188.3 269.93,182.6 270.46,183.0 270.98,188.7 271.51,194.4 272.03,192.4 272.56,195.6 273.09,197.8 273.61,200.6 274.14,188.1 274.66,181.4 275.19,165.9 275.71,173.7 276.24,185.7 276.77,178.6 277.29,177.2 277.82,189.9 278.34,176.2 278.87,189.1 279.39,206.3 279.92,187.9 280.45,189.5 280.97,179.1 281.50,186.8 282.02,192.2 282.55,182.5 283.08,189.0 283.60,184.0 284.13,171.9 284.65,180.1 285.18,184.0 285.70,183.2 286.23,181.0 286.76,188.5 287.28,180.8 287.81,178.9 288.33,169.9 288.86,180.2 289.38,195.7 289.91,179.1 290.44,188.1 290.96,182.9 291.49,187.2 292.01,176.6 292.54,184.3 293.07,182.9 293.59,207.1 294.12,196.8 294.64,181.5 295.17,190.5 295.69,189.8 296.22,197.4 296.75,187.2 297.27,186.7 297.80,192.3 298.32,184.0 298.85,183.5 299.38,182.0 299.90,188.5 300.43,172.5 300.95,173.0 301.48,182.5 302.00,182.9 302.53,188.0 303.06,184.0 303.58,182.8 304.11,180.7 304.63,176.4 305.16,168.9 305.68,174.8 306.21,180.8 306.74,188.3 307.26,187.3 307.79,180.1 308.31,179.6 308.84,180.2 309.37,186.4 309.89,187.0 310.42,200.9 310.94,174.6 311.47,184.9 311.99,190.4 312.52,193.4 313.05,190.6 313.57,181.7 314.10,177.8 314.62,190.9 315.15,178.4 315.67,176.0 316.20,174.7 316.73,172.4 317.25,171.5 317.78,174.4 318.30,172.3 318.83,186.3 319.36,177.3 319.88,179.9 320.41,164.7 320.93,191.6 321.46,182.1 321.98,177.7 322.51,183.2 323.04,180.0 323.56,178.3 324.09,178.5 324.61,188.2 325.14,189.1 325.67,177.2 326.19,170.8 326.72,176.0 327.24,181.6 327.77,184.9 328.29,174.5 328.82,186.5 329.35,200.8 329.87,186.4 330.40,192.7 330.92,188.0 331.45,191.9 331.97,187.3 332.50,189.1 333.03,188.3 333.55,198.6 334.08,189.8 334.60,199.9 335.13,205.3 335.66,187.7 336.18,185.5 336.71,190.8 337.23,189.9 337.76,185.8 338.28,180.5 338.81,183.6 339.34,174.3 339.86,191.8 340.39,187.9 340.91,194.2 341.44,178.1 341.96,174.8 342.49,175.4 343.02,178.7 343.54,179.7 344.07,176.7 344.59,182.8 345.12,181.9 345.65,179.4 346.17,190.0 346.70,185.7 347.22,182.4 347.75,172.0 348.27,164.6 348.80,178.8 349.33,179.0 349.85,199.6 350.38,195.9 350.90,192.7 351.43,194.5 351.96,186.1 352.48,189.7 353.01,190.8 353.53,190.0 354.06,196.0 354.58,178.0 355.11,179.8 355.64,188.4 356.16,196.0 356.69,181.5 357.21,184.0 357.74,195.0 358.26,189.2 358.79,188.1 359.32,184.2 359.84,180.4 360.37,173.6 360.89,170.6 361.42,167.2 361.95,175.0 362.47,171.5 363.00,169.6 363.52,172.5 364.05,185.1 364.57,182.0 365.10,185.0 365.63,168.7 366.15,179.5 366.68,180.5 367.20,175.8 367.73,168.1 368.25,185.8 368.78,184.5 369.31,179.3 369.83,183.8 370.36,186.1 370.88,179.5 371.41,185.4 371.94,171.2 372.46,180.7 372.99,182.9 373.51,182.6 374.04,176.9 374.56,191.1 375.09,187.8 375.62,190.7 376.14,183.3 376.67,178.4 377.19,187.6 377.72,188.7 378.25,185.9 378.77,175.4 379.30,178.2 379.82,179.7 380.35,180.7 380.87,188.9 381.40,186.6 381.93,184.4 382.45,183.9 382.98,182.6 383.50,190.2 384.03,184.1 384.55,176.1 385.08,175.0 385.61,175.6 386.13,180.4 386.66,176.2 387.18,194.8 387.71,181.0 388.24,183.2 388.76,180.5 389.29,177.0 389.81,187.5 390.34,184.9 390.86,172.6 391.39,181.9 391.92,189.7 392.44,186.4 392.97,202.4 393.49,183.9 394.02,178.1 394.54,177.8 395.07,177.3 395.60,185.4 396.12,185.9 396.65,177.4 397.17,173.1 397.70,189.9 398.23,206.8 398.75,202.8 399.28,183.4 399.80,191.0 400.33,183.9 400.85,176.9 401.38,184.3 401.91,181.0 402.43,180.9 402.96,180.9 403.48,181.8 404.01,189.4 404.54,184.4 405.06,183.1 405.59,171.4 406.11,164.9 406.64,177.3 407.16,201.9 407.69,194.6 408.22,189.2 408.74,183.2 409.27,173.8 409.79,185.0 410.32,191.8 410.84,180.0 411.37,192.7 411.90,179.5 412.42,185.7 412.95,178.0 413.47,181.0 414.00,175.0 414.53,173.1 415.05,183.0 415.58,180.2 416.10,183.4 416.63,184.4 417.15,180.9 417.68,182.1 418.21,183.8 418.73,186.0 419.26,198.2 419.78,184.1 420.31,190.1 420.83,181.8 421.36,179.1 421.89,183.8 422.41,195.4 422.94,187.0 423.46,186.0 423.99,198.5 424.52,183.9 425.04,168.4 425.57,181.6 426.09,178.0 426.62,164.1 427.14,167.0 427.67,180.2 428.20,186.0 428.72,183.9 429.25,183.0 429.77,194.4 430.30,184.6 430.82,185.4 431.35,185.8 431.88,185.7 432.40,173.9 432.93,182.2 433.45,185.2 433.98,180.8 434.51,167.0 435.03,174.1 435.56,176.5 436.08,171.6 436.61,183.8 437.13,172.5 437.66,185.9 438.19,175.4 438.71,188.6 439.24,183.9 439.76,194.3 440.29,192.7 440.82,178.0 441.34,179.1 441.87,181.6 442.39,188.8 442.92,188.2 443.44,192.0 443.97,195.8 444.50,189.7 445.02,188.4 445.55,193.9 446.07,189.5 446.60,195.0 447.12,185.4 447.65,174.1 448.18,175.0 448.70,169.1 449.23,181.7 449.75,187.0 450.28,188.5 450.81,189.1 451.33,199.2 451.86,194.1 452.38,182.3 452.91,172.3 453.43,164.8 453.96,185.3 454.49,178.8 455.01,189.2 455.54,181.6 456.06,191.4 456.59,184.2 457.12,163.9 457.64,163.9 458.17,163.9 458.69,172.6 459.22,179.3 459.74,176.9 460.27,163.9 460.80,184.1 461.32,184.5 461.85,202.6 462.37,184.8 462.90,180.4 463.42,177.9 463.95,191.2 464.48,194.7 465.00,186.7 465.53,179.2 466.05,171.2 466.58,172.2 467.11,186.7 467.63,176.3 468.16,177.6 468.68,179.2 469.21,177.0 469.73,195.2 470.26,188.9 470.79,191.1 471.31,182.6 471.84,169.1 472.36,179.8 472.89,193.5 473.41,188.2 473.94,190.4 474.47,184.4 474.99,198.8 475.52,202.1 476.04,192.2 476.57,186.3 477.10,185.6 477.62,197.3 478.15,177.9 478.67,206.6 479.20,189.4 479.72,175.1 480.25,184.5 480.78,183.2 481.30,190.2 481.83,181.1 482.35,191.9 482.88,186.9 483.41,182.0 483.93,194.0 484.46,179.8 484.98,191.8 485.51,193.5 486.03,184.3 486.56,189.0 487.09,187.0 487.61,176.2 488.14,182.8 488.66,187.7 489.19,188.7 489.71,181.4 490.24,180.0 490.77,182.7 491.29,182.2 491.82,179.2 492.34,190.1 492.87,183.4 493.40,194.1 493.92,185.0 494.45,172.4 494.97,193.0 495.50,188.6 496.02,194.2 496.55,189.9 497.08,203.3 497.60,194.7 498.13,189.4 498.65,188.6 499.18,175.7 499.70,179.5 500.23,181.0 500.76,181.0 501.28,183.6 501.81,195.0 502.33,199.4 502.86,187.0 503.39,174.9 503.91,173.8 504.44,186.6 504.96,168.2 505.49,184.7 506.01,181.4 506.54,195.8 507.07,198.0 507.59,194.0 508.12,174.5 508.64,182.3 509.17,192.2 509.70,192.2 510.22,186.6 510.75,195.5 511.27,190.8 511.80,177.6 512.32,184.1 512.85,181.8 513.38,194.5 513.90,197.1 514.43,187.0 514.95,180.0 515.48,186.9 516.00,180.1 516.53,180.3 517.06,185.5 517.58,181.0 518.11,183.6 518.63,183.4 519.16,188.3 519.69,185.1 520.21,202.8 520.74,206.5 521.26,194.8 521.79,201.5 522.31,196.1 522.84,187.2 523.37,179.9 523.89,187.6 524.42,182.4 524.94,178.1 525.47,186.3 525.99,177.5 526.52,179.9 527.05,185.2 527.57,175.4 528.10,185.9 528.62,177.9 529.15,187.8 529.68,191.4 530.20,193.1 530.73,188.7 531.25,186.9 531.78,180.4 532.30,192.3 532.83,180.2 533.36,165.4 533.88,173.8 534.41,168.2 534.93,173.8 535.46,166.3 535.99,178.2 536.51,188.6 537.04,172.6 537.56,185.1 538.09,190.6 538.61,190.8 539.14,200.4 539.67,194.5 540.19,196.6 540.72,185.2 541.24,177.1 541.77,193.6 542.29,191.6 542.82,191.5 543.35,203.7 543.87,193.2 544.40,182.7 544.92,186.2 545.45,190.7 545.98,184.2 546.50,178.7 547.03,169.9 547.55,177.5 548.08,177.3 548.60,179.4 549.13,187.9 549.66,190.2 550.18,180.1 550.71,190.2 551.23,188.7 551.76,193.4 552.28,184.7 552.81,193.1 553.34,191.6 553.86,188.0 554.39,186.2 554.91,186.2 555.44,189.5 555.97,188.7 556.49,170.5 557.02,170.3 557.54,187.0 558.07,205.2 558.59,194.4 559.12,182.0 559.65,184.3 560.17,177.6 560.70,179.7 561.22,192.9 561.75,185.6 562.28,185.5 562.80,182.6 563.33,187.4 563.85,192.8 564.38,188.5 564.90,185.5 565.43,190.2 565.96,194.5 566.48,187.4 567.01,178.3 567.53,171.9 568.06,191.6 568.58,196.8 569.11,193.6 569.64,176.9 570.16,195.5 570.69,201.6 571.21,179.5 571.74,173.9 572.27,180.0 572.79,179.2 573.32,173.4 573.84,175.1 574.37,178.7 574.89,170.5 575.42,171.9 575.95,171.0 576.47,186.3 577.00,174.0 577.52,189.2 578.05,197.3 578.57,187.0 579.10,187.5 579.63,185.8 580.15,189.7 580.68,168.8 581.20,178.6 581.73,192.6 582.26,189.2 582.78,177.5 583.31,190.6 583.83,186.5 584.36,170.4 584.88,173.9 585.41,174.6 585.94,189.7 586.46,174.6 586.99,195.2 587.51,206.4 588.04,197.5 588.57,197.7 589.09,175.3 589.62,183.1 590.14,196.4 590.67,194.7 591.19,190.2 591.72,191.7 592.25,187.2 592.77,187.8 593.30,186.4 593.82,186.8 594.35,183.3 594.87,174.1 595.40,172.0 595.93,186.6 596.45,170.4 596.98,174.1 597.50,172.1 598.03,179.4 598.56,177.8 599.08,180.4 599.61,181.5 600.13,174.6 600.66,170.8 601.18,183.2 601.71,185.0 602.24,177.9 602.76,171.0 603.29,187.9 603.81,182.9 604.34,187.9 604.86,187.1 605.39,197.7 605.92,178.0 606.44,187.0 606.97,182.4 607.49,185.4 608.02,170.3 608.55,171.5 609.07,178.9 609.60,163.6 610.12,182.3 610.65,171.4 611.17,169.3 611.70,192.5 612.23,168.8 612.75,175.8 613.28,181.8 613.80,173.7 614.33,187.3 614.86,191.2 615.38,178.8 615.91,180.8 616.43,190.8 616.96,171.4 617.48,183.6 618.01,190.0 618.54,185.8 619.06,176.1 619.59,173.4 620.11,176.2 620.64,175.5 621.16,190.1 621.69,191.7 622.22,182.8 622.74,187.4 623.27,179.1 623.79,196.4 624.32,171.3 624.85,175.2 625.37,181.1 625.90,178.2 626.42,173.1 626.95,180.0 627.47,200.9 628.00,202.1" stroke="#bfbf00" stroke-width="2.0"/>
<polyline points="102.20,282.7 102.73,283.9 103.25,272.4 103.78,275.6 104.30,285.6 104.83,280.4 105.35,283.2 105.88,280.8 106.41,285.1 106.93,279.0 107.46,270.6 107.98,265.1 108.51,274.4 109.04,277.1 109.56,293.0 110.09,279.1 110.61,298.3 111.14,284.2 111.66,285.5 112.19,290.1 112.72,287.8 113.24,289.3 113.77,285.7 114.29,293.9 114.82,283.0 115.34,299.8 115.87,290.4 116.40,307.3 116.92,298.1 117.45,313.6 117.97,314.1 118.50,305.2 119.03,314.7 119.55,309.2 120.08,312.8 120.60,302.1 121.13,304.7 121.65,310.0 122.18,317.0 122.71,313.5 123.23,310.1 123.76,302.0 124.28,312.8 124.81,312.8 125.34,318.8 125.86,321.4 126.39,320.0 126.91,315.3 127.44,298.6 127.96,308.9 128.49,301.2 129.02,303.6 129.54,307.6 130.07,306.7 130.59,306.6 131.12,292.5 131.64,302.2 132.17,288.1 132.70,297.1 133.22,291.8 133.75,285.8 134.27,280.5 134.80,284.3 135.33,281.5 135.85,282.0 136.38,285.4 136.90,293.6 137.43,276.1 137.95,286.3 138.48,289.4 139.01,271.8 139.53,275.7 140.06,287.8 140.58,277.8 141.11,275.7 141.63,273.1 142.16,277.8 142.69,281.0 143.21,283.0 143.74,294.0 144.26,286.8 144.79,278.2 145.32,272.5 145.84,256.3 146.37,272.6 146.89,268.9 147.42,268.7 147.94,276.2 148.47,286.7 149.00,286.9 149.52,281.7 150.05,282.7 150.57,276.2 151.10,277.3 151.63,269.8 152.15,262.1 152.68,258.6 153.20,259.6 153.73,263.7 154.25,259.5 154.78,264.4 155.31,277.5 155.83,259.5 156.36,260.0 156.88,261.0 157.41,248.5 157.93,259.5 158.46,259.5 158.99,269.9 159.51,251.2 160.04,261.9 160.56,254.9 161.09,255.3 161.62,252.0 162.14,255.5 162.67,248.8 163.19,244.8 163.72,253.6 164.24,242.5 164.77,260.5 165.30,240.0 165.82,249.9 166.35,246.8 166.87,241.1 167.40,237.3 167.93,240.4 168.45,242.8 168.98,239.5 169.50,232.7 170.03,240.9 170.55,240.9 171.08,236.1 171.61,243.8 172.13,229.3 172.66,235.9 173.18,236.7 173.71,243.8 174.23,247.5 174.76,243.5 175.29,229.8 175.81,237.5 176.34,233.0 176.86,223.4 177.39,230.4 177.92,230.8 178.44,237.7 178.97,244.4 179.49,232.4 180.02,231.5 180.54,226.5 181.07,220.4 181.60,230.4 182.12,221.8 182.65,224.9 183.17,226.3 183.70,217.9 184.22,222.7 184.75,227.9 185.28,221.8 185.80,225.0 186.33,231.5 186.85,227.3 187.38,218.7 187.91,217.3 188.43,205.0 188.96,210.6 189.48,243.2 190.01,232.9 190.53,211.5 191.06,219.4 191.59,225.4 192.11,232.5 192.64,212.4 193.16,210.1 193.69,207.0 194.22,212.4 194.74,197.2 195.27,205.4 195.79,224.5 196.32,211.0 196.84,210.2 197.37,208.9 197.90,209.1 198.42,211.5 198.95,232.9 199.47,209.8 200.00,208.8 200.52,203.3 201.05,204.8 201.58,208.6 202.10,218.6 202.63,207.3 203.15,209.5 203.68,203.9 204.21,212.9 204.73,207.7 205.26,200.3 205.78,192.4 206.31,194.9 206.83,199.0 207.36,200.1 207.89,189.6 208.41,181.0 208.94,199.6 209.46,195.5 209.99,202.2 210.51,205.1 211.04,187.2 211.57,192.1 212.09,205.6 212.62,192.2 213.14,181.5 213.67,193.6 214.20,180.9 214.72,189.6 215.25,171.0 215.77,173.4 216.30,176.8 216.82,169.9 217.35,176.2 217.88,167.3 218.40,155.2 218.93,161.5 219.45,175.2 219.98,177.1 220.50,185.7 221.03,178.8 221.56,172.8 222.08,175.6 222.61,167.2 223.13,162.8 223.66,174.0 224.19,177.7 224.71,163.0 225.24,158.3 225.76,161.3 226.29,145.2 226.81,156.5 227.34,158.0 227.87,167.1 228.39,149.1 228.92,157.3 229.44,142.5 229.97,135.1 230.50,145.0 231.02,144.1 231.55,130.9 232.07,140.4 232.60,137.1 233.12,141.5 233.65,131.1 234.18,119.1 234.70,115.3 235.23,133.8 235.75,126.1 236.28,137.6 236.80,128.6 237.33,134.6 237.86,114.2 238.38,112.2 238.91,121.7 239.43,126.0 239.96,123.3 240.49,127.9 241.01,131.3 241.54,126.9 242.06,108.7 242.59,118.3 243.11,109.2 243.64,124.2 244.17,125.3 244.69,120.0 245.22,123.7 245.74,121.7 246.27,120.8 246.80,112.0 247.32,96.3 247.85,122.6 248.37,112.2 248.90,112.2 249.42,105.8 249.95,103.7 250.48,95.9 251.00,104.1 251.53,110.0 252.05,104.8 252.58,114.0 253.10,110.0 253.63,112.3 254.16,111.8 254.68,111.7 255.21,98.4 255.73,82.6 256.26,87.9 256.79,85.0 257.31,95.4 257.84,99.9 258.36,103.8 258.89,121.2 259.41,99.8 259.94,101.9 260.47,111.3 260.99,110.6 261.52,94.5 262.04,89.5 262.57,102.7 263.09,91.5 263.62,95.0 264.15,105.7 264.67,106.1 265.20,96.6 265.72,115.0 266.25,104.3 266.78,111.8 267.30,96.5 267.83,111.7 268.35,108.8 268.88,105.4 269.40,98.5 269.93,110.9 270.46,105.9 270.98,88.1 271.51,103.2 272.03,99.5 272.56,93.0 273.09,103.9 273.61,94.6 274.14,101.9 274.66,97.4 275.19,98.4 275.71,106.0 276.24,92.1 276.77,97.7 277.29,104.6 277.82,107.2 278.34,104.2 278.87,101.4 279.39,103.3 279.92,89.0 280.45,104.1 280.97,109.0 281.50,90.8 282.02,95.9 282.55,95.9 283.08,83.9 283.60,91.2 284.13,100.4 284.65,95.9 285.18,88.6 285.70,84.9 286.23,96.3 286.76,96.1 287.28,108.8 287.81,94.1 288.33,90.4 288.86,101.1 289.38,104.8 289.91,113.8 290.44,95.1 290.96,101.7 291.49,100.2 292.01,98.8 292.54,103.8 293.07,106.5 293.59,113.8 294.12,115.3 294.64,88.6 295.17,106.2 295.69,102.0 296.22,92.9 296.75,122.1 297.27,109.9 297.80,109.7 298.32,113.6 298.85,102.5 299.38,121.0 299.90,110.4 300.43,93.0 300.95,121.0 301.48,121.9 302.00,104.7 302.53,107.1 303.06,113.3 303.58,101.8 304.11,100.2 304.63,112.3 305.16,114.5 305.68,114.7 306.21,124.2 306.74,125.1 307.26,105.9 307.79,108.5 308.31,88.2 308.84,106.5 309.37,109.6 309.89,103.6 310.42,99.7 310.94,98.4 311.47,99.1 311.99,111.1 312.52,122.6 313.05,126.8 313.57,92.8 314.10,96.4 314.62,86.1 315.15,96.2 315.67,108.2 316.20,106.4 316.73,102.7 317.25,98.6 317.78,100.8 318.30,89.9 318.83,97.9 319.36,95.4 319.88,111.5 320.41,102.4 320.93,99.4 321.46,105.5 321.98,103.3 322.51,92.1 323.04,97.2 323.56,102.3 324.09,113.5 324.61,105.8 325.14,113.2 325.67,105.2 326.19,100.8 326.72,100.5 327.24,110.6 327.77,98.7 328.29,93.4 328.82,107.2 329.35,93.4 329.87,81.3 330.40,92.5 330.92,89.3 331.45,109.5 331.97,105.5 332.50,102.5 333.03,97.9 333.55,114.7 334.08,115.9 334.60,112.4 335.13,119.0 335.66,116.9 336.18,103.2 336.71,119.9 337.23,106.9 337.76,105.7 338.28,118.3 338.81,109.2 339.34,109.5 339.86,122.2 340.39,119.6 340.91,120.5 341.44,113.7 341.96,104.2 342.49,115.0 343.02,101.4 343.54,109.4 344.07,100.0 344.59,95.8 345.12,111.1 345.65,100.2 346.17,87.4 346.70,94.3 347.22,101.4 347.75,96.4 348.27,99.1 348.80,110.4 349.33,114.4 349.85,99.0 350.38,98.0 350.90,98.3 351.43,85.0 351.96,86.1 352.48,90.8 353.01,103.4 353.53,81.5 354.06,86.1 354.58,105.4 355.11,107.9 355.64,113.5 356.16,97.9 356.69,84.2 357.21,101.9 357.74,97.2 358.26,91.0 358.79,113.1 359.32,99.1 359.84,103.3 360.37,103.3 360.89,96.3 361.42,112.1 361.95,105.8 362.47,104.5 363.00,105.9 363.52,103.7 364.05,97.4 364.57,98.4 365.10,109.2 365.63,113.6 366.15,108.2 366.68,103.4 367.20,93.7 367.73,97.9 368.25,85.8 368.78,86.4 369.31,104.2 369.83,86.5 370.36,107.4 370.88,99.5 371.41,111.4 371.94,106.4 372.46,105.1 372.99,105.1 373.51,87.1 374.04,78.7 374.56,80.3 375.09,87.7 375.62,88.2 376.14,101.5 376.67,97.4 377.19,100.3 377.72,102.3 378.25,109.7 378.77,95.6 379.30,106.6 379.82,107.0 380.35,97.9 380.87,106.7 381.40,113.9 381.93,121.4 382.45,106.4 382.98,102.7 383.50,97.4 384.03,106.0 384.55,112.3 385.08,98.2 385.61,114.1 386.13,109.5 386.66,111.7 387.18,112.2 387.71,111.0 388.24,92.3 388.76,119.2 389.29,97.6 389.81,113.3 390.34,98.9 390.86,95.4 391.39,104.9 391.92,103.9 392.44,97.2 392.97,99.8 393.49,102.3 394.02,102.1 394.54,101.8 395.07,111.6 395.60,96.6 396.12,93.3 396.65,119.1 397.17,113.9 397.70,96.3 398.23,81.7 398.75,89.8 399.28,114.4 399.80,109.4 400.33,95.5 400.85,100.8 401.38,105.9 401.91,106.0 402.43,95.8 402.96,96.6 403.48,103.8 404.01,97.8 404.54,93.4 405.06,86.5 405.59,100.6 406.11,114.6 406.64,90.7 407.16,87.3 407.69,101.0 408.22,110.2 408.74,112.3 409.27,110.4 409.79,85.7 410.32,87.7 410.84,87.6 411.37,97.6 411.90,78.5 412.42,109.7 412.95,110.5 413.47,109.7 414.00,108.6 414.53,108.6 415.05,106.3 415.58,109.1 416.10,100.1 416.63,112.5 417.15,86.7 417.68,101.5 418.21,81.6 418.73,86.3 419.26,100.3 419.78,90.2 420.31,93.7 420.83,106.7 421.36,100.1 421.89,97.5 422.41,98.5 422.94,109.0 423.46,106.8 423.99,99.5 424.52,101.3 425.04,110.0 425.57,106.1 426.09,116.6 426.62,108.4 427.14,121.3 427.67,97.8 428.20,96.8 428.72,96.6 429.25,91.7 429.77,101.1 430.30,88.9 430.82,102.8 431.35,93.0 431.88,90.2 432.40,87.0 432.93,96.6 433.45,114.9 433.98,103.9 434.51,122.4 435.03,113.0 435.56,108.9 436.08,90.8 436.61,102.0 437.13,108.3 437.66,110.7 438.19,110.9 438.71,105.2 439.24,107.4 439.76,108.6 440.29,109.6 440.82,113.1 441.34,103.2 441.87,102.6 442.39,117.7 442.92,113.6 443.44,104.4 443.97,98.6 444.50,92.4 445.02,101.6 445.55,109.8 446.07,121.2 446.60,100.1 447.12,90.0 447.65,91.5 448.18,91.8 448.70,100.3 449.23,106.7 449.75,91.6 450.28,108.5 450.81,101.3 451.33,91.6 451.86,99.9 452.38,91.1 452.91,103.6 453.43,97.6 453.96,118.8 454.49,123.2 455.01,115.4 455.54,111.3 456.06,107.9 456.59,109.3 457.12,111.5 457.64,122.1 458.17,116.1 458.69,102.9 459.22,111.7 459.74,110.4 460.27,88.6 460.80,90.1 461.32,86.6 461.85,87.5 462.37,91.8 462.90,103.3 463.42,101.0 463.95,99.9 464.48,102.8 465.00,103.6 465.53,101.7 466.05,89.6 466.58,109.3 467.11,86.4 467.63,106.5 468.16,104.7 468.68,92.6 469.21,108.5 469.73,101.5 470.26,107.0 470.79,127.4 471.31,118.8 471.84,112.5 472.36,113.7 472.89,96.0 473.41,97.6 473.94,92.3 474.47,85.6 474.99,85.7 475.52,88.6 476.04,92.0 476.57,105.3 477.10,96.7 477.62,90.6 478.15,93.0 478.67,111.6 479.20,116.1 479.72,96.9 480.25,90.8 480.78,91.4 481.30,115.7 481.83,116.2 482.35,111.1 482.88,115.0 483.41,106.4 483.93,104.7 484.46,101.9 484.98,98.8 485.51,104.6 486.03,97.9 486.56,98.1 487.09,115.3 487.61,89.3 488.14,105.4 488.66,93.7 489.19,96.0 489.71,112.7 490.24,101.0 490.77,110.1 491.29,117.8 491.82,91.8 492.34,103.1 492.87,105.5 493.40,98.4 493.92,90.6 494.45,108.7 494.97,107.6 495.50,102.1 496.02,106.8 496.55,129.0 497.08,111.1 497.60,102.5 498.13,93.7 498.65,91.2 499.18,108.7 499.70,98.2 500.23,107.9 500.76,103.7 501.28,98.8 501.81,96.3 502.33,106.2 502.86,97.1 503.39,95.0 503.91,88.3 504.44,122.8 504.96,106.6 505.49,109.6 506.01,111.2 506.54,100.7 507.07,117.8 507.59,98.5 508.12,93.2 508.64,103.8 509.17,88.9 509.70,95.1 510.22,94.7 510.75,115.5 511.27,104.1 511.80,85.0 512.32,85.1 512.85,106.3 513.38,91.7 513.90,89.1 514.43,85.2 514.95,103.1 515.48,116.0 516.00,112.3 516.53,115.7 517.06,106.7 517.58,99.1 518.11,106.7 518.63,113.4 519.16,119.6 519.69,120.2 520.21,96.3 520.74,113.1 521.26,104.0 521.79,98.7 522.31,109.1 522.84,94.2 523.37,96.6 523.89,107.7 524.42,108.6 524.94,106.6 525.47,101.9 525.99,113.1 526.52,111.3 527.05,104.9 527.57,110.3 528.10,111.6 528.62,105.9 529.15,106.6 529.68,96.4 530.20,109.2 530.73,86.3 531.25,90.4 531.78,99.6 532.30,119.0 532.83,109.5 533.36,109.4 533.88,101.6 534.41,91.2 534.93,81.0 535.46,103.7 535.99,97.3 536.51,95.5 537.04,106.6 537.56,80.4 538.09,97.0 538.61,100.1 539.14,107.1 539.67,101.9 540.19,96.3 540.72,97.6 541.24,111.3 541.77,103.9 542.29,113.8 542.82,110.8 543.35,105.2 543.87,101.4 544.40,124.4 544.92,100.7 545.45,94.2 545.98,91.0 546.50,77.8 547.03,99.9 547.55,103.4 548.08,104.3 548.60,98.4 549.13,100.9 549.66,106.4 550.18,90.1 550.71,108.0 551.23,105.8 551.76,95.3 552.28,94.7 552.81,90.0 553.34,100.4 553.86,112.1 554.39,119.0 554.91,105.3 555.44,108.1 555.97,106.5 556.49,101.4 557.02,99.5 557.54,102.6 558.07,107.8 558.59,111.7 559.12,102.9 559.65,114.8 560.17,96.5 560.70,113.2 561.22,103.7 561.75,115.1 562.28,119.3 562.80,105.3 563.33,107.2 563.85,101.1 564.38,105.2 564.90,115.6 565.43,113.3 565.96,105.5 566.48,106.8 567.01,112.7 567.53,104.2 568.06,93.3 568.58,107.4 569.11,104.5 569.64,105.2 570.16,111.5 570.69,122.8 571.21,123.1 571.74,105.0 572.27,127.8 572.79,106.2 573.32,116.6 573.84,115.4 574.37,112.6 574.89,107.3 575.42,105.7 575.95,96.1 576.47,90.8 577.00,77.6 577.52,110.6 578.05,91.7 578.57,116.5 579.10,122.5 579.63,118.3 580.15,101.6 580.68,105.3 581.20,103.3 581.73,86.7 582.26,88.4 582.78,97.7 583.31,86.1 583.83,99.7 584.36,104.7 584.88,115.3 585.41,108.8 585.94,109.0 586.46,99.0 586.99,95.2 587.51,94.6 588.04,109.6 588.57,101.9 589.09,106.3 589.62,112.9 590.14,119.4 590.67,109.4 591.19,101.5 591.72,92.7 592.25,107.1 592.77,92.2 593.30,115.5 593.82,101.9 594.35,94.5 594.87,87.0 595.40,104.6 595.93,97.4 596.45,84.5 596.98,92.0 597.50,102.0 598.03,88.1 598.56,111.9 599.08,108.3 599.61,116.0 600.13,107.4 600.66,106.2 601.18,105.3 601.71,112.2 602.24,113.1 602.76,93.3 603.29,90.5 603.81,101.0 604.34,95.5 604.86,109.2 605.39,107.9 605.92,109.3 606.44,99.5 606.97,93.4 607.49,81.8 608.02,98.6 608.55,104.9 609.07,105.1 609.60,129.7 610.12,105.8 610.65,104.1 611.17,116.5 611.70,110.2 612.23,90.7 612.75,88.0 613.28,92.7 613.80,91.9 614.33,104.6 614.86,115.2 615.38,119.2 615.91,116.3 616.43,110.0 616.96,95.0 617.48,87.2 618.01,93.8 618.54,89.4 619.06,97.8 619.59,102.7 620.11,92.8 620.64,91.9 621.16,91.7 621.69,102.2 622.22,112.8 622.74,98.1 623.27,125.2 623.79,106.9 624.32,105.1 624.85,102.2 625.37,101.0 625.90,97.5 626.42,112.3 626.95,104.9 627.47,121.2 628.00,110.2" stroke="#ffa500" stroke-width="2.0"/>
<polyline points="102.20,213.9 102.73,217.1 103.25,213.2 103.78,213.2 104.30,210.1 104.83,211.6 105.35,216.4 105.88,217.7 106.41,211.8 106.93,209.0 107.46,208.9 107.98,215.8 108.51,217.4 109.04,209.6 109.56,211.5 110.09,215.6 110.61,217.1 111.14,217.3 111.66,216.5 112.19,216.1 112.72,215.7 113.24,212.5 113.77,214.0 114.29,216.4 114.82,212.4 115.34,211.5 115.87,216.2 116.40,214.6 116.92,217.5 117.45,217.1 117.97,218.4 118.50,214.2 119.03,214.3 119.55,212.5 120.08,215.8 120.60,214.6 121.13,216.9 121.65,217.6 122.18,212.3 122.71,216.1 123.23,210.7 123.76,210.1 124.28,215.0 124.81,214.8 125.34,216.0 125.86,211.9 126.39,210.3 126.91,217.6 127.44,213.5 127.96,216.2 128.49,208.8 129.02,213.5 129.54,212.0 130.07,216.2 130.59,213.9 131.12,214.0 131.64,207.9 132.17,208.0 132.70,202.7 133.22,204.3 133.75,207.5 134.27,206.4 134.80,210.6 135.33,208.9 135.85,207.0 136.38,208.1 136.90,208.9 137.43,206.4 137.95,207.9 138.48,209.7 139.01,210.1 139.53,208.7 140.06,205.5 140.58,211.9 141.11,208.6 141.63,212.1 142.16,212.6 142.69,215.6 143.21,207.4 143.74,208.4 144.26,211.7 144.79,213.1 145.32,210.0 145.84,211.8 146.37,214.1 146.89,206.9 147.42,209.3 147.94,210.7 148.47,209.0 149.00,212.0 149.52,209.3 150.05,203.8 150.57,207.1 151.10,210.8 151.63,213.1 152.15,210.9 152.68,210.4 153.20,205.6 153.73,211.2 154.25,210.7 154.78,211.0 155.31,210.8 155.83,208.8 156.36,208.6 156.88,208.2 157.41,201.7 157.93,202.3 158.46,209.4 158.99,202.8 159.51,205.2 160.04,209.5 160.56,204.5 161.09,203.4 161.62,205.9 162.14,205.5 162.67,206.6 163.19,203.7 163.72,201.9 164.24,200.8 164.77,199.9 165.30,193.4 165.82,201.5 166.35,200.6 166.87,202.1 167.40,204.2 167.93,207.6 168.45,203.3 168.98,200.5 169.50,200.7 170.03,201.9 170.55,198.4 171.08,196.2 171.61,197.6 172.13,196.2 172.66,198.0 173.18,193.5 173.71,194.4 174.23,195.9 174.76,197.0 175.29,201.9 175.81,198.8 176.34,197.4 176.86,195.6 177.39,192.3 177.92,195.5 178.44,202.4 178.97,194.9 179.49,195.9 180.02,199.3 180.54,195.7 181.07,196.9 181.60,200.5 182.12,200.8 182.65,201.3 183.17,196.9 183.70,198.0 184.22,197.0 184.75,200.2 185.28,198.7 185.80,201.5 186.33,198.4 186.85,194.9 187.38,196.0 187.91,198.7 188.43,202.6 188.96,195.9 189.48,197.5 190.01,199.0 190.53,201.6 191.06,192.7 191.59,191.3 192.11,196.1 192.64,193.3 193.16,190.3 193.69,201.4 194.22,199.8 194.74,198.2 195.27,193.6 195.79,195.0 196.32,192.4 196.84,194.9 197.37,189.4 197.90,185.5 198.42,190.1 198.95,192.8 199.47,185.2 200.00,193.9 200.52,194.9 201.05,192.1 201.58,191.2 202.10,187.8 202.63,189.5 203.15,191.1 203.68,188.8 204.21,188.7 204.73,184.9 205.26,190.4 205.78,195.1 206.31,194.2 206.83,186.9 207.36,194.3 207.89,196.6 208.41,192.3 208.94,189.8 209.46,186.9 209.99,189.5 210.51,187.1 211.04,185.5 211.57,187.0 212.09,186.9 212.62,183.2 213.14,181.1 213.67,182.7 214.20,184.8 214.72,179.5 215.25,181.6 215.77,184.9 216.30,186.3 216.82,187.1 217.35,185.7 217.88,176.1 218.40,181.0 218.93,179.1 219.45,179.9 219.98,183.3 220.50,179.5 221.03,188.3 221.56,184.7 222.08,181.7 222.61,189.0 223.13,188.3 223.66,180.9 224.19,182.2 224.71,185.7 225.24,184.2 225.76,182.5 226.29,180.1 226.81,180.0 227.34,181.6 227.87,181.5 228.39,180.0 228.92,174.3 229.44,177.1 229.97,174.0 230.50,178.3 231.02,181.7 231.55,181.7 232.07,175.6 232.60,174.1 233.12,177.8 233.65,181.1 234.18,178.3 234.70,175.0 235.23,174.9 235.75,173.9 236.28,171.9 236.80,170.7 237.33,167.0 237.86,164.2 238.38,161.1 238.91,162.6 239.43,165.2 239.96,166.1 240.49,164.6 241.01,167.9 241.54,163.0 242.06,160.6 242.59,164.0 243.11,171.6 243.64,163.9 244.17,165.7 244.69,162.1 245.22,167.7 245.74,159.7 246.27,160.6 246.80,161.9 247.32,165.1 247.85,162.9 248.37,164.5 248.90,165.1 249.42,167.0 249.95,160.7 250.48,164.2 251.00,164.4 251.53,161.9 252.05,169.4 252.58,166.7 253.10,166.2 253.63,164.7 254.16,162.0 254.68,164.6 255.21,159.2 255.73,161.5 256.26,161.5 256.79,167.2 257.31,162.4 257.84,157.8 258.36,163.4 258.89,167.4 259.41,159.2 259.94,161.5 260.47,156.1 260.99,161.6 261.52,163.3 262.04,162.7 262.57,160.4 263.09,156.6 263.62,158.9 264.15,154.1 264.67,152.0 265.20,156.5 265.72,161.5 266.25,162.0 266.78,166.8 267.30,163.3 267.83,164.5 268.35,166.9 268.88,158.5 269.40,166.5 269.93,164.7 270.46,155.9 270.98,153.6 271.51,155.0 272.03,154.9 272.56,152.5 273.09,151.6 273.61,157.3 274.14,158.6 274.66,160.0 275.19,159.8 275.71,161.3 276.24,161.1 276.77,157.7 277.29,159.5 277.82,157.3 278.34,160.6 278.87,158.8 279.39,156.3 279.92,154.0 280.45,151.4 280.97,154.4 281.50,151.3 282.02,151.2 282.55,160.9 283.08,159.6 283.60,159.8 284.13,162.1 284.65,159.8 285.18,163.0 285.70,164.8 286.23,158.9 286.76,158.0 287.28,160.3 287.81,159.6 288.33,162.8 288.86,160.0 289.38,160.5 289.91,159.4 290.44,159.0 290.96,157.1 291.49,152.3 292.01,154.7 292.54,158.1 293.07,157.5 293.59,155.8 294.12,160.5 294.64,157.6 295.17,164.0 295.69,167.0 296.22,161.2 296.75,159.0 297.27,153.1 297.80,155.8 298.32,157.7 298.85,157.1 299.38,160.9 299.90,154.6 300.43,159.2 300.95,157.6 301.48,155.2 302.00,156.1 302.53,151.7 303.06,157.6 303.58,161.3 304.11,161.6 304.63,161.3 305.16,155.5 305.68,157.9 306.21,154.5 306.74,153.6 307.26,154.1 307.79,152.6 308.31,158.0 308.84,156.6 309.37,152.1 309.89,159.9 310.42,159.8 310.94,160.8 311.47,157.1 311.99,162.7 312.52,154.6 313.05,156.7 313.57,159.1 314.10,153.7 314.62,153.7 315.15,152.3 315.67,153.9 316.20,157.5 316.73,156.4 317.25,156.8 317.78,153.5 318.30,152.9 318.83,153.5 319.36,159.3 319.88,159.9 320.41,154.9 320.93,152.1 321.46,155.8 321.98,158.7 322.51,153.4 323.04,152.8 323.56,153.4 324.09,161.2 324.61,158.0 325.14,162.1 325.67,158.2 326.19,161.5 326.72,156.9 327.24,154.1 327.77,152.7 328.29,157.9 328.82,158.1 329.35,152.6 329.87,161.4 330.40,157.4 330.92,154.9 331.45,158.6 331.97,155.3 332.50,157.9 333.03,156.6 333.55,153.6 334.08,154.9 334.60,148.6 335.13,150.8 335.66,150.8 336.18,156.9 336.71,158.8 337.23,155.9 337.76,154.6 338.28,158.1 338.81,154.3 339.34,157.0 339.86,160.3 340.39,162.3 340.91,156.9 341.44,158.9 341.96,159.6 342.49,161.1 343.02,153.2 343.54,157.5 344.07,158.8 344.59,154.8 345.12,158.9 345.65,151.4 346.17,156.1 346.70,157.1 347.22,157.3 347.75,149.3 348.27,153.3 348.80,153.6 349.33,158.1 349.85,159.5 350.38,161.1 350.90,157.2 351.43,156.1 351.96,151.9 352.48,155.4 353.01,154.9 353.53,157.1 354.06,163.3 354.58,155.7 355.11,158.8 355.64,158.0 356.16,157.5 356.69,158.4 357.21,154.4 357.74,156.5 358.26,158.2 358.79,151.2 359.32,160.6 359.84,161.5 360.37,158.9 360.89,155.5 361.42,150.5 361.95,155.2 362.47,150.7 363.00,158.7 363.52,155.6 364.05,152.3 364.57,159.1 365.10,159.7 365.63,158.9 366.15,156.3 366.68,166.0 367.20,159.6 367.73,158.7 368.25,157.7 368.78,158.0 369.31,154.1 369.83,162.9 370.36,156.9 370.88,157.6 371.41,160.1 371.94,158.2 372.46,151.3 372.99,156.9 373.51,164.4 374.04,167.0 374.56,156.4 375.09,158.2 375.62,157.6 376.14,159.9 376.67,159.8 377.19,166.0 377.72,160.5 378.25,157.8 378.77,164.9 379.30,163.9 379.82,158.4 380.35,159.8 380.87,159.1 381.40,157.2 381.93,150.2 382.45,152.0 382.98,151.6 383.50,154.4 384.03,157.3 384.55,157.2 385.08,155.8 385.61,155.0 386.13,161.8 386.66,167.0 387.18,156.3 387.71,154.3 388.24,159.7 388.76,161.5 389.29,165.4 389.81,158.0 390.34,153.4 390.86,151.0 391.39,155.3 391.92,156.8 392.44,159.6 392.97,156.7 393.49,153.5 394.02,156.5 394.54,154.3 395.07,156.2 395.60,158.5 396.12,166.6 396.65,160.9 397.17,160.1 397.70,162.0 398.23,162.8 398.75,167.0 399.28,160.2 399.80,155.4 400.33,157.0 400.85,158.8 401.38,158.9 401.91,158.7 402.43,159.6 402.96,159.7 403.48,157.0 404.01,158.7 404.54,152.9 405.06,160.1 405.59,157.1 406.11,159.7 406.64,158.7 407.16,167.0 407.69,158.8 408.22,161.5 408.74,159.9 409.27,160.2 409.79,159.2 410.32,160.9 410.84,157.3 411.37,154.6 411.90,153.3 412.42,159.3 412.95,156.2 413.47,156.5 414.00,157.8 414.53,160.6 415.05,157.8 415.58,159.0 416.10,156.6 416.63,153.2 417.15,156.7 417.68,150.3 418.21,156.0 418.73,156.1 419.26,159.6 419.78,160.8 420.31,163.6 420.83,160.9 421.36,160.6 421.89,160.9 422.41,154.2 422.94,152.7 423.46,158.3 423.99,153.6 424.52,158.8 425.04,158.1 425.57,148.5 426.09,151.0 426.62,152.2 427.14,153.8 427.67,163.6 428.20,156.2 428.72,157.1 429.25,156.4 429.77,158.5 430.30,154.5 430.82,150.5 431.35,148.6 431.88,150.7 432.40,155.9 432.93,154.7 433.45,153.0 433.98,160.7 434.51,152.1 435.03,157.2 435.56,160.1 436.08,152.6 436.61,148.8 437.13,156.5 437.66,157.9 438.19,149.5 438.71,151.3 439.24,160.9 439.76,160.6 440.29,156.3 440.82,149.7 441.34,151.0 441.87,149.7 442.39,152.4 442.92,155.2 443.44,157.5 443.97,158.8 444.50,159.9 445.02,158.2 445.55,152.4 446.07,152.9 446.60,156.8 447.12,155.2 447.65,156.4 448.18,150.4 448.70,158.3 449.23,158.8 449.75,155.1 450.28,152.4 450.81,156.7 451.33,160.8 451.86,162.1 452.38,162.5 452.91,155.4 453.43,158.3 453.96,159.6 454.49,160.2 455.01,157.8 455.54,156.7 456.06,158.7 456.59,159.5 457.12,154.5 457.64,151.2 458.17,157.0 458.69,157.7 459.22,154.8 459.74,159.6 460.27,160.3 460.80,161.4 461.32,156.9 461.85,158.1 462.37,159.3 462.90,159.6 463.42,159.4 463.95,162.6 464.48,167.0 465.00,159.2 465.53,163.3 466.05,158.6 466.58,154.5 467.11,155.0 467.63,157.9 468.16,158.8 468.68,154.7 469.21,159.7 469.73,163.5 470.26,156.8 470.79,158.9 471.31,150.7 471.84,154.5 472.36,156.6 472.89,155.4 473.41,152.0 473.94,159.2 474.47,159.5 474.99,161.2 475.52,159.8 476.04,153.1 476.57,158.8 477.10,161.2 477.62,158.2 478.15,154.4 478.67,152.9 479.20,154.4 479.72,159.1 480.25,157.1 480.78,156.9 481.30,157.4 481.83,152.4 482.35,153.1 482.88,156.1 483.41,160.1 483.93,153.5 484.46,156.1 484.98,152.0 485.51,158.1 486.03,158.8 486.56,156.2 487.09,153.0 487.61,155.2 488.14,158.1 488.66,159.7 489.19,160.5 489.71,157.3 490.24,155.4 490.77,149.4 491.29,149.6 491.82,156.8 492.34,154.8 492.87,157.9 493.40,157.7 493.92,157.5 494.45,157.1 494.97,159.3 495.50,153.4 496.02,157.9 496.55,158.3 497.08,156.2 497.60,157.1 498.13,152.5 498.65,154.0 499.18,155.0 499.70,159.3 500.23,158.6 500.76,156.4 501.28,158.0 501.81,154.6 502.33,159.8 502.86,156.1 503.39,154.3 503.91,155.6 504.44,155.0 504.96,152.0 505.49,158.1 506.01,161.5 506.54,160.6 507.07,153.6 507.59,151.1 508.12,156.4 508.64,154.9 509.17,154.2 509.70,159.0 510.22,165.7 510.75,167.1 511.27,165.1 511.80,161.6 512.32,163.1 512.85,160.4 513.38,158.4 513.90,155.5 514.43,154.2 514.95,151.9 515.48,155.7 516.00,157.9 516.53,151.9 517.06,161.6 517.58,164.7 518.11,155.6 518.63,153.6 519.16,153.0 519.69,154.6 520.21,149.9 520.74,155.9 521.26,157.5 521.79,159.2 522.31,155.7 522.84,156.4 523.37,160.0 523.89,155.8 524.42,148.0 524.94,154.2 525.47,154.9 525.99,151.7 526.52,152.8 527.05,156.4 527.57,154.6 528.10,153.3 528.62,157.3 529.15,158.3 529.68,158.1 530.20,156.0 530.73,150.2 531.25,147.9 531.78,152.5 532.30,153.4 532.83,153.9 533.36,154.1 533.88,154.0 534.41,155.7 534.93,160.5 535.46,158.5 535.99,157.6 536.51,152.3 537.04,151.7 537.56,159.7 538.09,160.1 538.61,156.0 539.14,159.6 539.67,154.7 540.19,153.5 540.72,152.9 541.24,156.7 541.77,162.3 542.29,158.0 542.82,163.8 543.35,160.5 543.87,155.7 544.40,162.2 544.92,157.6 545.45,158.0 545.98,152.7 546.50,155.2 547.03,164.3 547.55,154.8 548.08,158.3 548.60,159.1 549.13,157.2 549.66,155.2 550.18,154.3 550.71,154.6 551.23,159.9 551.76,160.4 552.28,164.2 552.81,163.8 553.34,160.9 553.86,161.3 554.39,161.3 554.91,154.7 555.44,152.4 555.97,158.6 556.49,167.1 557.02,161.4 557.54,164.5 558.07,167.1 558.59,159.7 559.12,160.1 559.65,157.1 560.17,147.9 560.70,152.4 561.22,154.1 561.75,154.8 562.28,153.9 562.80,160.0 563.33,160.3 563.85,155.8 564.38,156.7 564.90,161.6 565.43,163.1 565.96,163.8 566.48,160.5 567.01,156.2 567.53,153.9 568.06,152.5 568.58,156.3 569.11,156.0 569.64,156.7 570.16,154.0 570.69,162.1 571.21,155.5 571.74,163.0 572.27,162.9 572.79,160.1 573.32,160.2 573.84,153.3 574.37,153.5 574.89,160.1 575.42,159.0 575.95,158.2 576.47,153.0 577.00,148.7 577.52,151.1 578.05,155.6 578.57,156.6 579.10,152.4 579.63,159.1 580.15,162.3 580.68,154.4 581.20,154.8 581.73,156.4 582.26,156.7 582.78,162.0 583.31,160.6 583.83,158.6 584.36,159.8 584.88,165.3 585.41,161.7 585.94,154.6 586.46,154.9 586.99,159.9 587.51,154.9 588.04,150.1 588.57,155.8 589.09,167.1 589.62,158.9 590.14,157.5 590.67,157.9 591.19,159.9 591.72,151.9 592.25,153.5 592.77,152.1 593.30,155.0 593.82,155.8 594.35,153.1 594.87,163.3 595.40,154.7 595.93,158.2 596.45,154.4 596.98,154.6 597.50,154.9 598.03,153.8 598.56,147.8 599.08,155.3 599.61,159.4 600.13,156.6 600.66,159.9 601.18,152.5 601.71,158.6 602.24,158.1 602.76,155.8 603.29,153.2 603.81,152.6 604.34,150.4 604.86,148.1 605.39,157.3 605.92,156.0 606.44,157.3 606.97,157.8 607.49,159.1 608.02,160.2 608.55,155.5 609.07,157.1 609.60,152.0 610.12,152.2 610.65,155.4 611.17,155.0 611.70,156.9 612.23,158.3 612.75,153.8 613.28,156.7 613.80,153.2 614.33,153.5 614.86,150.1 615.38,157.9 615.91,153.6 616.43,156.7 616.96,152.7 617.48,156.4 618.01,160.4 618.54,166.1 619.06,161.9 619.59,155.6 620.11,153.7 620.64,158.7 621.16,158.7 621.69,156.5 622.22,156.2 622.74,154.8 623.27,152.3 623.79,159.1 624.32,156.2 624.85,155.7 625.37,156.7 625.90,163.2 626.42,158.0 626.95,156.3 627.47,157.4 628.00,158.6" stroke="#800080" stroke-width="2.2"/>
<polyline points="102.20,194.7 102.73,192.9 103.25,208.4 103.78,203.1 104.30,193.8 104.83,189.3 105.35,187.8 105.88,184.9 106.41,185.1 106.93,180.3 107.46,183.7 107.98,189.8 108.51,194.3 109.04,183.6 109.56,183.2 110.09,179.2 110.61,174.0 111.14,177.7 111.66,181.6 112.19,179.4 112.72,185.7 113.24,192.7 113.77,191.3 114.29,185.6 114.82,200.6 115.34,201.8 115.87,194.4 116.40,200.7 116.92,195.1 117.45,192.2 117.97,192.1 118.50,191.9 119.03,185.7 119.55,188.4 120.08,176.5 120.60,184.5 121.13,186.7 121.65,187.2 122.18,179.0 122.71,180.6 123.23,187.2 123.76,178.1 124.28,178.5 124.81,183.8 125.34,181.7 125.86,172.6 126.39,180.6 126.91,177.0 127.44,182.5 127.96,189.5 128.49,183.8 129.02,175.1 129.54,186.6 130.07,184.7 130.59,193.3 131.12,196.3 131.64,193.9 132.17,186.8 132.70,184.7 133.22,181.9 133.75,182.2 134.27,185.6 134.80,182.9 135.33,174.0 135.85,187.8 136.38,187.8 136.90,191.4 137.43,187.6 137.95,184.4 138.48,187.6 139.01,194.8 139.53,187.0 140.06,188.1 140.58,188.8 141.11,195.9 141.63,188.6 142.16,193.6 142.69,188.7 143.21,191.4 143.74,183.6 144.26,191.8 144.79,191.9 145.32,182.4 145.84,187.4 146.37,190.8 146.89,190.6 147.42,187.6 147.94,183.9 148.47,184.5 149.00,183.3 149.52,183.9 150.05,177.8 150.57,191.7 151.10,182.4 151.63,187.7 152.15,192.4 152.68,195.3 153.20,187.8 153.73,185.1 154.25,187.6 154.78,185.1 155.31,186.2 155.83,182.1 156.36,178.5 156.88,191.5 157.41,196.9 157.93,191.5 158.46,193.7 158.99,198.2 159.51,194.1 160.04,188.5 160.56,197.9 161.09,185.9 161.62,178.9 162.14,177.6 162.67,180.3 163.19,178.0 163.72,190.0 164.24,178.8 164.77,186.8 165.30,182.7 165.82,189.7 166.35,178.4 166.87,177.1 167.40,174.8 167.93,184.5 168.45,192.5 168.98,183.9 169.50,187.2 170.03,184.2 170.55,180.1 171.08,179.0 171.61,175.2 172.13,176.5 172.66,178.7 173.18,183.3 173.71,174.8 174.23,180.1 174.76,173.5 175.29,176.7 175.81,175.3 176.34,177.1 176.86,176.4 177.39,175.3 177.92,186.7 178.44,184.7 178.97,181.3 179.49,179.1 180.02,184.3 180.54,173.6 181.07,181.4 181.60,181.3 182.12,170.7 182.65,179.9 183.17,177.7 183.70,168.5 184.22,177.5 184.75,185.2 185.28,186.9 185.80,182.8 186.33,178.7 186.85,187.6 187.38,183.4 187.91,183.5 188.43,173.8 188.96,174.5 189.48,182.7 190.01,177.3 190.53,179.3 191.06,174.8 191.59,163.4 192.11,166.2 192.64,171.2 193.16,173.2 193.69,171.1 194.22,170.6 194.74,171.1 195.27,173.0 195.79,177.0 196.32,170.4 196.84,171.5 197.37,171.3 197.90,163.4 198.42,163.9 198.95,172.0 199.47,163.9 200.00,174.6 200.52,170.8 201.05,161.9 201.58,166.3 202.10,170.0 202.63,164.3 203.15,161.6 203.68,166.6 204.21,165.8 204.73,168.4 205.26,163.7 205.78,174.8 206.31,168.8 206.83,173.9 207.36,179.0 207.89,171.7 208.41,173.7 208.94,170.6 209.46,177.5 209.99,174.1 210.51,179.4 211.04,163.9 211.57,156.7 212.09,159.9 212.62,155.6 213.14,153.0 213.67,154.5 214.20,171.9 214.72,163.9 215.25,162.7 215.77,170.8 216.30,169.2 216.82,157.3 217.35,161.2 217.88,169.2 218.40,160.1 218.93,165.0 219.45,164.5 219.98,161.3 220.50,165.1 221.03,175.0 221.56,168.9 222.08,162.6 222.61,157.4 223.13,159.0 223.66,163.2 224.19,160.3 224.71,162.6 225.24,157.5 225.76,163.9 226.29,161.2 226.81,151.9 227.34,155.3 227.87,154.7 228.39,157.6 228.92,153.7 229.44,150.1 229.97,144.7 230.50,151.4 231.02,152.3 231.55,144.0 232.07,142.8 232.60,138.4 233.12,140.7 233.65,155.4 234.18,155.2 234.70,148.0 235.23,151.1 235.75,146.8 236.28,145.3 236.80,146.9 237.33,144.1 237.86,146.3 238.38,143.5 238.91,142.2 239.43,143.5 239.96,134.3 240.49,133.6 241.01,139.3 241.54,140.5 242.06,141.2 242.59,137.0 243.11,141.1 243.64,136.1 244.17,132.5 244.69,132.7 245.22,133.6 245.74,138.1 246.27,135.0 246.80,131.1 247.32,129.1 247.85,132.8 248.37,135.0 248.90,134.3 249.42,131.7 249.95,123.0 250.48,126.8 251.00,124.3 251.53,129.2 252.05,120.1 252.58,121.0 253.10,116.5 253.63,120.2 254.16,131.6 254.68,135.7 255.21,132.1 255.73,123.8 256.26,123.5 256.79,116.4 257.31,114.4 257.84,115.3 258.36,112.6 258.89,112.3 259.41,120.8 259.94,120.0 260.47,111.8 260.99,115.2 261.52,109.5 262.04,100.9 262.57,108.4 263.09,107.6 263.62,112.6 264.15,107.8 264.67,110.8 265.20,117.3 265.72,112.5 266.25,111.4 266.78,110.3 267.30,106.6 267.83,110.9 268.35,105.6 268.88,98.5 269.40,94.1 269.93,94.9 270.46,99.2 270.98,103.6 271.51,97.5 272.03,100.4 272.56,99.9 273.09,103.2 273.61,106.0 274.14,102.9 274.66,96.1 275.19,94.6 275.71,105.3 276.24,95.7 276.77,92.4 277.29,79.7 277.82,101.4 278.34,96.1 278.87,88.2 279.39,90.6 279.92,86.2 280.45,98.6 280.97,94.2 281.50,92.3 282.02,91.2 282.55,84.9 283.08,84.0 283.60,84.3 284.13,88.9 284.65,88.2 285.18,84.1 285.70,85.1 286.23,82.9 286.76,77.0 287.28,77.9 287.81,83.5 288.33,81.7 288.86,89.0 289.38,87.4 289.91,92.5 290.44,77.9 290.96,76.0 291.49,81.9 292.01,74.5 292.54,72.1 293.07,79.3 293.59,74.5 294.12,68.3 294.64,72.7 295.17,75.8 295.69,67.0 296.22,78.9 296.75,80.6 297.27,82.7 297.80,77.6 298.32,73.5 298.85,74.2 299.38,79.2 299.90,78.8 300.43,75.0 300.95,72.6 301.48,72.1 302.00,69.6 302.53,71.5 303.06,68.1 303.58,74.8 304.11,77.3 304.63,63.4 305.16,58.0 305.68,58.0 306.21,70.4 306.74,69.4 307.26,69.1 307.79,79.1 308.31,76.0 308.84,73.1 309.37,79.4 309.89,82.1 310.42,69.8 310.94,74.2 311.47,69.8 311.99,69.3 312.52,70.4 313.05,79.6 313.57,78.7 314.10,64.6 314.62,67.0 315.15,66.9 315.67,76.1 316.20,76.8 316.73,67.0 317.25,65.5 317.78,61.4 318.30,71.2 318.83,79.5 319.36,78.3 319.88,81.2 320.41,73.9 320.93,77.6 321.46,79.6 321.98,72.5 322.51,70.9 323.04,74.5 323.56,67.7 324.09,70.0 324.61,81.4 325.14,79.0 325.67,78.0 326.19,72.2 326.72,74.7 327.24,73.3 327.77,66.9 328.29,69.9 328.82,72.0 329.35,70.6 329.87,72.3 330.40,71.6 330.92,64.1 331.45,68.9 331.97,73.0 332.50,73.3 333.03,74.2 333.55,76.1 334.08,81.5 334.60,78.9 335.13,86.6 335.66,75.5 336.18,79.3 336.71,72.8 337.23,70.4 337.76,72.0 338.28,73.2 338.81,73.8 339.34,76.6 339.86,62.4 340.39,59.9 340.91,73.7 341.44,67.3 341.96,64.9 342.49,76.3 343.02,71.7 343.54,65.2 344.07,66.4 344.59,74.8 345.12,69.5 345.65,62.4 346.17,65.6 346.70,75.9 347.22,66.3 347.75,66.3 348.27,67.6 348.80,61.6 349.33,70.2 349.85,65.4 350.38,66.3 350.90,67.0 351.43,70.0 351.96,76.0 352.48,66.2 353.01,73.6 353.53,74.5 354.06,76.7 354.58,77.0 355.11,86.1 355.64,79.5 356.16,83.2 356.69,72.0 357.21,70.1 357.74,61.3 358.26,69.6 358.79,58.2 359.32,65.0 359.84,76.5 360.37,83.8 360.89,85.4 361.42,76.7 361.95,71.6 362.47,74.2 363.00,74.4 363.52,62.8 364.05,73.0 364.57,82.6 365.10,80.9 365.63,81.9 366.15,74.0 366.68,71.0 367.20,78.0 367.73,71.9 368.25,73.8 368.78,75.5 369.31,68.9 369.83,63.1 370.36,65.7 370.88,75.2 371.41,77.4 371.94,76.1 372.46,79.7 372.99,75.6 373.51,74.6 374.04,78.7 374.56,80.7 375.09,79.2 375.62,62.1 376.14,61.8 376.67,59.7 377.19,65.5 377.72,72.5 378.25,63.1 378.77,69.8 379.30,70.9 379.82,83.4 380.35,75.6 380.87,82.5 381.40,80.6 381.93,80.7 382.45,80.3 382.98,74.3 383.50,82.0 384.03,66.3 384.55,84.2 385.08,80.4 385.61,77.8 386.13,75.3 386.66,76.1 387.18,71.8 387.71,73.2 388.24,75.0 388.76,66.8 389.29,71.3 389.81,72.0 390.34,72.5 390.86,68.7 391.39,71.7 391.92,75.1 392.44,62.9 392.97,66.7 393.49,64.5 394.02,70.7 394.54,64.9 395.07,64.8 395.60,67.8 396.12,64.9 396.65,64.6 397.17,70.1 397.70,73.4 398.23,69.5 398.75,77.3 399.28,71.1 399.80,68.1 400.33,67.1 400.85,70.2 401.38,67.4 401.91,67.0 402.43,63.4 402.96,69.9 403.48,84.2 404.01,86.2 404.54,68.7 405.06,73.4 405.59,75.5 406.11,69.1 406.64,79.7 407.16,77.1 407.69,72.0 408.22,74.5 408.74,76.2 409.27,74.2 409.79,78.5 410.32,75.4 410.84,75.3 411.37,80.8 411.90,67.6 412.42,67.7 412.95,73.6 413.47,81.9 414.00,80.3 414.53,69.7 415.05,68.7 415.58,71.4 416.10,74.8 416.63,71.6 417.15,79.7 417.68,72.7 418.21,82.2 418.73,71.2 419.26,80.3 419.78,73.3 420.31,76.2 420.83,69.8 421.36,64.5 421.89,76.6 422.41,75.1 422.94,75.2 423.46,69.8 423.99,70.4 424.52,65.7 425.04,69.5 425.57,79.9 426.09,72.6 426.62,73.5 427.14,66.3 427.67,67.7 428.20,78.5 428.72,84.0 429.25,75.6 429.77,74.0 430.30,68.1 430.82,82.1 431.35,74.4 431.88,69.9 432.40,73.2 432.93,67.5 433.45,74.2 433.98,73.2 434.51,65.1 435.03,76.7 435.56,88.5 436.08,76.6 436.61,74.6 437.13,72.5 437.66,69.0 438.19,70.4 438.71,76.6 439.24,67.1 439.76,72.5 440.29,76.2 440.82,74.8 441.34,73.6 441.87,75.5 442.39,68.6 442.92,72.4 443.44,67.0 443.97,65.4 444.50,73.9 445.02,83.1 445.55,71.2 446.07,70.9 446.60,72.7 447.12,58.4 447.65,72.4 448.18,67.7 448.70,73.7 449.23,76.3 449.75,71.5 450.28,72.4 450.81,64.1 451.33,70.2 451.86,65.6 452.38,69.8 452.91,81.2 453.43,77.1 453.96,75.7 454.49,70.8 455.01,76.0 455.54,72.5 456.06,76.8 456.59,83.0 457.12,80.2 457.64,75.1 458.17,75.7 458.69,69.2 459.22,66.1 459.74,68.1 460.27,73.5 460.80,79.2 461.32,73.1 461.85,70.5 462.37,77.1 462.90,76.1 463.42,75.1 463.95,71.4 464.48,69.7 465.00,74.1 465.53,68.9 466.05,75.2 466.58,80.6 467.11,78.8 467.63,69.8 468.16,67.5 468.68,68.3 469.21,75.2 469.73,63.4 470.26,73.8 470.79,67.6 471.31,66.0 471.84,72.0 472.36,66.5 472.89,82.4 473.41,72.6 473.94,81.5 474.47,72.7 474.99,74.7 475.52,69.0 476.04,58.1 476.57,80.8 477.10,75.5 477.62,77.2 478.15,69.6 478.67,71.3 479.20,69.2 479.72,74.4 480.25,77.4 480.78,72.6 481.30,80.0 481.83,70.1 482.35,73.0 482.88,68.1 483.41,76.7 483.93,71.1 484.46,69.8 484.98,65.1 485.51,64.2 486.03,74.0 486.56,68.4 487.09,72.5 487.61,65.7 488.14,77.1 488.66,71.3 489.19,77.1 489.71,79.3 490.24,73.8 490.77,71.3 491.29,67.7 491.82,73.5 492.34,66.1 492.87,74.1 493.40,71.1 493.92,78.5 494.45,76.5 494.97,74.1 495.50,76.9 496.02,82.7 496.55,77.0 497.08,71.2 497.60,68.3 498.13,70.5 498.65,70.4 499.18,72.6 499.70,66.2 500.23,61.5 500.76,70.3 501.28,63.6 501.81,66.4 502.33,67.3 502.86,67.1 503.39,60.0 503.91,57.4 504.44,60.8 504.96,66.0 505.49,58.8 506.01,79.6 506.54,65.3 507.07,64.0 507.59,65.6 508.12,75.5 508.64,60.5 509.17,62.8 509.70,69.2 510.22,76.4 510.75,75.5 511.27,78.8 511.80,77.6 512.32,81.1 512.85,63.7 513.38,79.7 513.90,77.5 514.43,70.0 514.95,66.4 515.48,72.6 516.00,76.2 516.53,69.9 517.06,71.1 517.58,70.2 518.11,72.3 518.63,73.9 519.16,62.0 519.69,70.3 520.21,77.5 520.74,75.1 521.26,86.0 521.79,81.2 522.31,71.6 522.84,67.3 523.37,69.0 523.89,69.0 524.42,75.1 524.94,76.0 525.47,71.3 525.99,62.5 526.52,65.9 527.05,75.3 527.57,75.5 528.10,70.8 528.62,64.2 529.15,78.0 529.68,73.4 530.20,59.0 530.73,63.6 531.25,69.4 531.78,73.6 532.30,67.2 532.83,76.2 533.36,83.0 533.88,77.2 534.41,67.8 534.93,63.9 535.46,69.7 535.99,78.3 536.51,80.8 537.04,86.3 537.56,73.3 538.09,65.4 538.61,76.5 539.14,76.0 539.67,85.8 540.19,86.5 540.72,78.8 541.24,84.5 541.77,85.5 542.29,88.4 542.82,78.0 543.35,84.4 543.87,82.1 544.40,82.6 544.92,79.9 545.45,70.8 545.98,73.6 546.50,72.0 547.03,67.3 547.55,67.5 548.08,63.8 548.60,79.0 549.13,66.5 549.66,68.1 550.18,79.4 550.71,75.6 551.23,66.7 551.76,71.8 552.28,73.3 552.81,76.2 553.34,84.1 553.86,83.4 554.39,71.3 554.91,72.6 555.44,74.1 555.97,80.3 556.49,72.0 557.02,69.4 557.54,73.6 558.07,76.1 558.59,79.3 559.12,69.4 559.65,74.0 560.17,61.8 560.70,71.6 561.22,74.3 561.75,82.3 562.28,72.4 562.80,71.5 563.33,68.5 563.85,69.8 564.38,65.3 564.90,67.4 565.43,59.0 565.96,64.7 566.48,69.9 567.01,75.1 567.53,73.5 568.06,73.3 568.58,66.5 569.11,65.4 569.64,66.2 570.16,76.4 570.69,80.4 571.21,77.7 571.74,77.1 572.27,74.1 572.79,64.7 573.32,65.5 573.84,69.3 574.37,80.0 574.89,79.4 575.42,71.8 575.95,66.4 576.47,69.6 577.00,76.5 577.52,70.1 578.05,66.8 578.57,67.6 579.10,74.2 579.63,77.0 580.15,79.5 580.68,72.9 581.20,68.5 581.73,67.2 582.26,68.0 582.78,61.7 583.31,69.1 583.83,68.2 584.36,69.3 584.88,81.8 585.41,80.8 585.94,79.5 586.46,77.5 586.99,69.5 587.51,65.4 588.04,77.1 588.57,68.4 589.09,70.7 589.62,80.1 590.14,74.0 590.67,78.4 591.19,74.5 591.72,73.0 592.25,74.0 592.77,64.8 593.30,64.4 593.82,57.8 594.35,62.3 594.87,68.9 595.40,72.4 595.93,73.2 596.45,80.5 596.98,72.9 597.50,78.3 598.03,83.9 598.56,86.1 599.08,86.5 599.61,79.9 600.13,76.4 600.66,79.0 601.18,78.0 601.71,69.8 602.24,61.7 602.76,65.2 603.29,65.3 603.81,72.7 604.34,73.9 604.86,79.0 605.39,81.7 605.92,70.2 606.44,73.1 606.97,61.0 607.49,65.4 608.02,71.1 608.55,72.4 609.07,80.9 609.60,76.1 610.12,78.8 610.65,68.4 611.17,80.4 611.70,76.8 612.23,65.4 612.75,76.3 613.28,76.7 613.80,71.2 614.33,67.0 614.86,75.6 615.38,66.3 615.91,66.5 616.43,82.9 616.96,71.5 617.48,72.7 618.01,74.7 618.54,69.8 619.06,80.0 619.59,75.9 620.11,73.5 620.64,70.1 621.16,80.0 621.69,73.7 622.22,66.9 622.74,78.9 623.27,75.3 623.79,71.0 624.32,65.7 624.85,64.0 625.37,61.2 625.90,68.4 626.42,69.6 626.95,84.5 627.47,72.7 628.00,75.0" stroke="#a8bbea" stroke-width="2.0"/>
<polyline points="102.20,298.2 102.73,302.7 103.25,285.0 103.78,302.9 104.30,291.6 104.83,300.7 105.35,307.9 105.88,298.6 106.41,297.8 106.93,303.5 107.46,299.7 107.98,301.0 108.51,311.1 109.04,306.0 109.56,315.2 110.09,295.6 110.61,310.2 111.14,309.6 111.66,311.7 112.19,309.1 112.72,315.2 113.24,315.1 113.77,314.5 114.29,314.9 114.82,307.7 115.34,289.5 115.87,315.0 116.40,304.1 116.92,312.4 117.45,299.9 117.97,309.7 118.50,306.5 119.03,303.8 119.55,294.9 120.08,297.5 120.60,302.8 121.13,308.4 121.65,292.5 122.18,303.6 122.71,295.6 123.23,301.0 123.76,286.3 124.28,314.8 124.81,304.7 125.34,287.6 125.86,307.3 126.39,304.3 126.91,301.2 127.44,311.1 127.96,290.7 128.49,279.7 129.02,294.5 129.54,308.3 130.07,304.2 130.59,303.2 131.12,289.1 131.64,305.0 132.17,301.8 132.70,283.8 133.22,293.4 133.75,301.9 134.27,308.9 134.80,310.1 135.33,309.7 135.85,314.4 136.38,298.4 136.90,302.2 137.43,289.6 137.95,289.5 138.48,297.2 139.01,307.2 139.53,303.1 140.06,298.4 140.58,308.0 141.11,302.7 141.63,295.9 142.16,309.5 142.69,290.6 143.21,314.1 143.74,301.9 144.26,301.4 144.79,302.9 145.32,298.0 145.84,298.4 146.37,302.6 146.89,297.8 147.42,314.0 147.94,303.3 148.47,301.3 149.00,294.3 149.52,296.6 150.05,302.6 150.57,304.2 151.10,288.7 151.63,295.4 152.15,301.3 152.68,289.3 153.20,281.9 153.73,313.8 154.25,309.4 154.78,288.8 155.31,302.0 155.83,301.1 156.36,292.0 156.88,303.4 157.41,304.0 157.93,304.0 158.46,292.3 158.99,302.6 159.51,303.8 160.04,305.2 160.56,296.7 161.09,308.2 161.62,302.9 162.14,293.1 162.67,302.4 163.19,297.6 163.72,301.8 164.24,297.1 164.77,298.9 165.30,300.8 165.82,296.6 166.35,307.6 166.87,300.0 167.40,307.6 167.93,306.3 168.45,310.8 168.98,304.3 169.50,305.5 170.03,303.7 170.55,294.6 171.08,302.0 171.61,310.2 172.13,308.0 172.66,307.7 173.18,289.8 173.71,286.0 174.23,292.8 174.76,306.3 175.29,306.2 175.81,279.4 176.34,296.1 176.86,297.7 177.39,293.4 177.92,282.5 178.44,295.5 178.97,293.2 179.49,293.5 180.02,286.4 180.54,298.0 181.07,304.2 181.60,297.5 182.12,304.2 182.65,296.9 183.17,296.3 183.70,278.1 184.22,305.4 184.75,301.0 185.28,290.1 185.80,291.2 186.33,290.9 186.85,296.8 187.38,292.1 187.91,305.0 188.43,300.2 188.96,292.0 189.48,300.0 190.01,298.6 190.53,293.9 191.06,290.0 191.59,289.6 192.11,292.8 192.64,292.6 193.16,300.5 193.69,299.7 194.22,283.8 194.74,298.0 195.27,289.7 195.79,283.2 196.32,287.6 196.84,291.8 197.37,287.7 197.90,282.1 198.42,284.4 198.95,294.9 199.47,283.5 200.00,282.3 200.52,278.9 201.05,273.3 201.58,274.8 202.10,278.4 202.63,279.3 203.15,262.6 203.68,263.9 204.21,261.3 204.73,255.5 205.26,267.2 205.78,266.0 206.31,264.3 206.83,273.9 207.36,272.2 207.89,271.7 208.41,269.4 208.94,276.5 209.46,264.2 209.99,255.2 210.51,261.7 211.04,269.3 211.57,268.4 212.09,273.6 212.62,275.0 213.14,260.4 213.67,274.3 214.20,274.2 214.72,256.6 215.25,267.3 215.77,276.1 216.30,270.7 216.82,276.5 217.35,277.8 217.88,257.3 218.40,266.9 218.93,276.2 219.45,258.2 219.98,251.3 220.50,260.8 221.03,267.4 221.56,265.5 222.08,262.7 222.61,260.0 223.13,249.6 223.66,251.6 224.19,246.1 224.71,241.5 225.24,235.7 225.76,265.5 226.29,250.4 226.81,248.7 227.34,254.1 227.87,251.1 228.39,258.0 228.92,255.3 229.44,236.3 229.97,242.3 230.50,247.3 231.02,232.6 231.55,234.4 232.07,253.0 232.60,261.2 233.12,260.0 233.65,259.2 234.18,258.1 234.70,237.8 235.23,227.6 235.75,247.5 236.28,251.8 236.80,212.3 237.33,236.6 237.86,242.3 238.38,230.9 238.91,228.5 239.43,233.5 239.96,217.9 240.49,231.7 241.01,241.7 241.54,227.3 242.06,226.0 242.59,229.8 243.11,230.7 243.64,231.2 244.17,198.7 244.69,238.1 245.22,201.1 245.74,210.1 246.27,220.1 246.80,206.2 247.32,204.1 247.85,220.6 248.37,219.7 248.90,225.3 249.42,222.5 249.95,218.6 250.48,213.6 251.00,200.7 251.53,198.5 252.05,189.8 252.58,185.1 253.10,189.0 253.63,214.4 254.16,212.7 254.68,219.1 255.21,169.3 255.73,193.6 256.26,162.2 256.79,170.9 257.31,156.2 257.84,164.4 258.36,179.3 258.89,178.1 259.41,169.7 259.94,151.4 260.47,159.4 260.99,155.4 261.52,136.5 262.04,173.9 262.57,135.9 263.09,151.9 263.62,141.2 264.15,137.0 264.67,156.0 265.20,140.2 265.72,158.1 266.25,129.0 266.78,151.8 267.30,136.0 267.83,138.3 268.35,165.3 268.88,154.5 269.40,145.1 269.93,109.6 270.46,136.9 270.98,128.7 271.51,139.1 272.03,108.1 272.56,110.7 273.09,133.6 273.61,136.8 274.14,159.3 274.66,120.2 275.19,91.7 275.71,115.5 276.24,112.3 276.77,134.2 277.29,146.7 277.82,126.4 278.34,160.4 278.87,132.3 279.39,136.8 279.92,113.2 280.45,109.2 280.97,118.8 281.50,137.1 282.02,132.2 282.55,127.3 283.08,148.2 283.60,163.5 284.13,158.2 284.65,134.2 285.18,150.2 285.70,158.0 286.23,165.7 286.76,145.6 287.28,135.1 287.81,110.3 288.33,157.6 288.86,146.0 289.38,127.7 289.91,143.8 290.44,143.0 290.96,112.9 291.49,140.2 292.01,137.0 292.54,144.3 293.07,127.8 293.59,147.9 294.12,158.8 294.64,166.7 295.17,153.0 295.69,133.8 296.22,143.6 296.75,129.9 297.27,147.3 297.80,168.2 298.32,154.4 298.85,133.5 299.38,126.4 299.90,157.1 300.43,146.4 300.95,141.8 301.48,122.8 302.00,168.5 302.53,113.2 303.06,158.7 303.58,139.9 304.11,116.2 304.63,111.4 305.16,121.6 305.68,153.4 306.21,124.9 306.74,148.9 307.26,168.5 307.79,99.0 308.31,144.6 308.84,134.6 309.37,153.8 309.89,120.7 310.42,114.5 310.94,103.7 311.47,151.8 311.99,165.1 312.52,147.0 313.05,164.9 313.57,163.2 314.10,130.7 314.62,148.6 315.15,151.0 315.67,153.6 316.20,107.1 316.73,114.4 317.25,155.1 317.78,115.3 318.30,143.6 318.83,128.8 319.36,122.8 319.88,157.2 320.41,154.2 320.93,140.8 321.46,132.0 321.98,99.0 322.51,148.9 323.04,135.0 323.56,163.4 324.09,162.9 324.61,152.6 325.14,129.1 325.67,99.0 326.19,127.5 326.72,156.1 327.24,138.6 327.77,152.2 328.29,133.1 328.82,143.3 329.35,147.2 329.87,139.8 330.40,159.2 330.92,160.9 331.45,167.1 331.97,142.6 332.50,166.8 333.03,147.8 333.55,159.8 334.08,151.3 334.60,131.9 335.13,161.2 335.66,140.1 336.18,154.4 336.71,126.5 337.23,114.6 337.76,136.0 338.28,143.5 338.81,118.4 339.34,155.2 339.86,114.7 340.39,157.1 340.91,168.5 341.44,99.0 341.96,105.4 342.49,157.8 343.02,140.9 343.54,158.4 344.07,140.9 344.59,166.5 345.12,166.2 345.65,144.3 346.17,131.6 346.70,135.3 347.22,153.6 347.75,119.3 348.27,163.2 348.80,141.0 349.33,168.5 349.85,164.4 350.38,119.5 350.90,158.4 351.43,131.9 351.96,149.6 352.48,165.3 353.01,164.5 353.53,141.5 354.06,147.3 354.58,127.0 355.11,130.3 355.64,146.8 356.16,151.4 356.69,115.9 357.21,143.5 357.74,141.3 358.26,117.0 358.79,148.0 359.32,143.1 359.84,136.4 360.37,156.7 360.89,164.3 361.42,161.6 361.95,138.0 362.47,164.3 363.00,135.3 363.52,156.7 364.05,139.4 364.57,162.2 365.10,122.3 365.63,149.7 366.15,131.7 366.68,122.7 367.20,104.5 367.73,143.4 368.25,138.3 368.78,122.0 369.31,165.6 369.83,129.8 370.36,118.1 370.88,137.2 371.41,141.4 371.94,127.7 372.46,152.2 372.99,122.8 373.51,130.8 374.04,141.8 374.56,151.9 375.09,144.7 375.62,145.0 376.14,143.9 376.67,162.3 377.19,122.5 377.72,122.3 378.25,130.6 378.77,143.9 379.30,142.8 379.82,139.9 380.35,146.5 380.87,166.6 381.40,138.5 381.93,99.0 382.45,163.7 382.98,139.3 383.50,140.6 384.03,155.5 384.55,133.0 385.08,162.3 385.61,158.7 386.13,128.3 386.66,146.2 387.18,149.0 387.71,144.1 388.24,152.0 388.76,129.4 389.29,159.0 389.81,136.6 390.34,159.2 390.86,143.5 391.39,145.5 391.92,168.5 392.44,142.2 392.97,158.5 393.49,144.1 394.02,132.1 394.54,157.0 395.07,153.6 395.60,113.5 396.12,133.9 396.65,120.3 397.17,140.2 397.70,149.0 398.23,135.8 398.75,115.7 399.28,139.0 399.80,141.1 400.33,128.8 400.85,127.5 401.38,140.6 401.91,121.7 402.43,136.6 402.96,155.2 403.48,165.5 404.01,137.1 404.54,148.0 405.06,159.5 405.59,161.6 406.11,135.1 406.64,162.3 407.16,155.9 407.69,107.6 408.22,124.0 408.74,125.1 409.27,119.2 409.79,142.1 410.32,151.0 410.84,106.2 411.37,127.1 411.90,143.4 412.42,117.5 412.95,137.3 413.47,153.6 414.00,133.4 414.53,134.9 415.05,154.3 415.58,133.2 416.10,143.2 416.63,143.0 417.15,166.3 417.68,161.0 418.21,144.2 418.73,141.1 419.26,153.9 419.78,146.1 420.31,163.9 420.83,152.9 421.36,134.1 421.89,168.5 422.41,160.1 422.94,122.1 423.46,142.1 423.99,148.3 424.52,139.3 425.04,116.9 425.57,168.5 426.09,160.9 426.62,154.1 427.14,149.6 427.67,134.4 428.20,133.8 428.72,123.7 429.25,145.5 429.77,127.3 430.30,134.9 430.82,150.9 431.35,130.2 431.88,99.0 432.40,126.9 432.93,146.4 433.45,138.3 433.98,140.1 434.51,130.4 435.03,107.5 435.56,153.0 436.08,146.0 436.61,126.7 437.13,141.9 437.66,124.5 438.19,160.7 438.71,161.3 439.24,149.9 439.76,114.2 440.29,160.6 440.82,146.2 441.34,143.2 441.87,136.0 442.39,132.4 442.92,128.4 443.44,104.7 443.97,125.8 444.50,122.3 445.02,146.1 445.55,134.4 446.07,164.0 446.60,139.7 447.12,138.0 447.65,150.4 448.18,167.2 448.70,132.3 449.23,139.7 449.75,149.3 450.28,149.2 450.81,135.0 451.33,105.3 451.86,128.4 452.38,140.0 452.91,127.6 453.43,118.7 453.96,139.1 454.49,153.5 455.01,153.0 455.54,138.1 456.06,129.6 456.59,167.3 457.12,140.6 457.64,131.9 458.17,154.3 458.69,134.7 459.22,159.1 459.74,157.4 460.27,157.4 460.80,142.1 461.32,150.9 461.85,153.0 462.37,150.8 462.90,162.1 463.42,131.4 463.95,162.7 464.48,154.6 465.00,150.6 465.53,151.8 466.05,166.8 466.58,165.1 467.11,150.6 467.63,109.7 468.16,112.1 468.68,147.7 469.21,142.3 469.73,129.8 470.26,124.9 470.79,164.3 471.31,107.4 471.84,137.9 472.36,141.2 472.89,135.8 473.41,102.6 473.94,107.6 474.47,104.8 474.99,124.1 475.52,136.0 476.04,121.3 476.57,143.8 477.10,114.2 477.62,130.1 478.15,139.2 478.67,164.4 479.20,148.0 479.72,138.2 480.25,162.3 480.78,140.2 481.30,142.8 481.83,158.8 482.35,166.0 482.88,139.8 483.41,118.0 483.93,127.3 484.46,128.0 484.98,168.5 485.51,144.7 486.03,163.1 486.56,140.9 487.09,166.0 487.61,150.9 488.14,149.6 488.66,145.9 489.19,156.6 489.71,151.7 490.24,109.4 490.77,153.8 491.29,155.3 491.82,152.1 492.34,167.8 492.87,132.6 493.40,99.0 493.92,125.4 494.45,142.0 494.97,101.2 495.50,122.2 496.02,111.7 496.55,116.0 497.08,150.3 497.60,144.8 498.13,157.9 498.65,161.3 499.18,128.8 499.70,158.8 500.23,114.0 500.76,120.6 501.28,142.6 501.81,127.7 502.33,104.8 502.86,123.6 503.39,160.9 503.91,140.2 504.44,111.4 504.96,142.3 505.49,147.7 506.01,105.4 506.54,137.8 507.07,153.8 507.59,149.8 508.12,139.5 508.64,148.8 509.17,150.4 509.70,134.6 510.22,128.5 510.75,155.0 511.27,116.8 511.80,135.4 512.32,130.2 512.85,126.4 513.38,153.9 513.90,151.3 514.43,135.1 514.95,168.5 515.48,168.5 516.00,146.0 516.53,162.2 517.06,148.0 517.58,157.0 518.11,144.0 518.63,151.2 519.16,156.0 519.69,147.5 520.21,168.5 520.74,147.4 521.26,158.8 521.79,160.4 522.31,152.0 522.84,145.0 523.37,161.4 523.89,108.2 524.42,150.3 524.94,130.0 525.47,134.4 525.99,102.0 526.52,137.4 527.05,115.8 527.57,143.7 528.10,134.9 528.62,155.9 529.15,150.3 529.68,110.6 530.20,148.6 530.73,129.2 531.25,99.0 531.78,144.4 532.30,166.3 532.83,141.9 533.36,160.3 533.88,134.0 534.41,126.1 534.93,154.8 535.46,147.5 535.99,144.1 536.51,143.5 537.04,146.6 537.56,99.0 538.09,162.6 538.61,149.3 539.14,154.2 539.67,141.4 540.19,145.4 540.72,162.7 541.24,136.5 541.77,153.1 542.29,160.5 542.82,165.3 543.35,168.5 543.87,157.7 544.40,164.3 544.92,144.9 545.45,129.2 545.98,144.3 546.50,130.8 547.03,143.1 547.55,149.5 548.08,123.0 548.60,143.6 549.13,120.5 549.66,144.7 550.18,136.5 550.71,141.9 551.23,121.5 551.76,127.4 552.28,120.1 552.81,135.9 553.34,127.4 553.86,127.3 554.39,149.5 554.91,99.0 555.44,124.0 555.97,122.3 556.49,141.4 557.02,140.9 557.54,99.0 558.07,143.8 558.59,167.7 559.12,158.1 559.65,148.9 560.17,106.4 560.70,124.9 561.22,116.9 561.75,143.6 562.28,140.9 562.80,124.3 563.33,99.0 563.85,133.3 564.38,120.4 564.90,130.0 565.43,135.9 565.96,140.9 566.48,145.3 567.01,164.8 567.53,122.2 568.06,133.0 568.58,144.1 569.11,158.5 569.64,116.9 570.16,137.9 570.69,137.3 571.21,124.9 571.74,142.3 572.27,135.5 572.79,148.7 573.32,137.7 573.84,149.5 574.37,142.7 574.89,135.6 575.42,133.0 575.95,116.4 576.47,111.6 577.00,123.3 577.52,141.5 578.05,141.3 578.57,137.6 579.10,132.4 579.63,147.1 580.15,141.8 580.68,104.2 581.20,101.7 581.73,125.1 582.26,143.9 582.78,102.7 583.31,128.0 583.83,138.3 584.36,129.7 584.88,138.5 585.41,141.5 585.94,142.0 586.46,99.0 586.99,148.6 587.51,127.7 588.04,144.1 588.57,110.8 589.09,150.9 589.62,145.9 590.14,116.2 590.67,131.4 591.19,148.9 591.72,148.0 592.25,166.1 592.77,131.9 593.30,140.1 593.82,155.2 594.35,156.7 594.87,141.3 595.40,138.0 595.93,130.8 596.45,111.0 596.98,157.2 597.50,144.3 598.03,144.2 598.56,132.7 599.08,156.8 599.61,148.9 600.13,156.0 600.66,131.3 601.18,144.8 601.71,149.0 602.24,127.3 602.76,138.9 603.29,151.3 603.81,113.3 604.34,122.6 604.86,113.0 605.39,120.7 605.92,110.3 606.44,153.6 606.97,133.8 607.49,99.0 608.02,127.3 608.55,160.4 609.07,155.2 609.60,142.1 610.12,137.5 610.65,157.1 611.17,134.1 611.70,149.5 612.23,153.4 612.75,113.8 613.28,162.4 613.80,143.0 614.33,142.0 614.86,123.7 615.38,145.5 615.91,148.0 616.43,151.8 616.96,123.3 617.48,143.8 618.01,168.5 618.54,149.4 619.06,129.7 619.59,122.9 620.11,107.4 620.64,105.3 621.16,143.2 621.69,140.5 622.22,151.9 622.74,123.4 623.27,136.1 623.79,99.0 624.32,141.4 624.85,165.2 625.37,156.7 625.90,133.2 626.42,157.4 626.95,148.7 627.47,151.1 628.00,135.1" stroke="#000000" stroke-width="2.0"/>
</g>
<line x1="628" y1="1" x2="628" y2="393.9" stroke="#3a3a3a" stroke-width="1.4"/>
<line x1="101" y1="392.9" x2="628.7" y2="392.9" stroke="#333" stroke-width="2"/>
<line x1="101.2" y1="1.5" x2="628.7" y2="1.5" stroke="#000" stroke-width="1.5"/>
<line x1="102" y1="0.8" x2="102" y2="393.9" stroke="#000" stroke-width="2"/>
<g stroke="#000" stroke-width="1.6">
<line x1="102.2" y1="392.7" x2="102.2" y2="398.3"/>
<line x1="207.4" y1="392.7" x2="207.4" y2="398.3"/>
<line x1="312.5" y1="392.7" x2="312.5" y2="398.3"/>
<line x1="417.7" y1="392.7" x2="417.7" y2="398.3"/>
<line x1="522.8" y1="392.7" x2="522.8" y2="398.3"/>
<line x1="628.0" y1="392.7" x2="628.0" y2="398.3"/>
<line x1="96.6" y1="367.8" x2="102.2" y2="367.8"/>
<line x1="96.6" y1="313.3" x2="102.2" y2="313.3"/>
<line x1="96.6" y1="258.8" x2="102.2" y2="258.8"/>
<line x1="96.6" y1="204.4" x2="102.2" y2="204.4"/>
<line x1="96.6" y1="149.9" x2="102.2" y2="149.9"/>
<line x1="96.6" y1="95.4" x2="102.2" y2="95.4"/>
<line x1="96.6" y1="41.0" x2="102.2" y2="41.0"/>
</g>
<rect x="376.2" y="231.3" width="244.2" height="154" rx="3.5" ry="3.5" fill="rgba(255,255,255,0.8)" stroke="#d0d0d0" stroke-width="1.2"/>
<g fill="none">
<line x1="380.6" y1="242.6" x2="412.7" y2="242.6" stroke="#fa7263" stroke-width="2.5"/>
<line x1="380.6" y1="264.1" x2="412.7" y2="264.1" stroke="#ff0000" stroke-width="2.4"/>
<line x1="380.6" y1="285.5" x2="412.7" y2="285.5" stroke="#bfbf00" stroke-width="2.3"/>
<line x1="380.6" y1="306.9" x2="412.7" y2="306.9" stroke="#ffa500" stroke-width="2.5"/>
<line x1="380.6" y1="328.4" x2="412.7" y2="328.4" stroke="#800080" stroke-width="2.6"/>
<line x1="380.6" y1="349.9" x2="412.7" y2="349.9" stroke="#a8bbea" stroke-width="2.2"/>
<line x1="380.6" y1="371.3" x2="412.7" y2="371.3" stroke="#000000" stroke-width="2.3"/>
</g>
</svg>
<div class="yl" style="top:358.3px">−1000</div>
<div class="yl" style="top:303.8px">0</div>
<div class="yl" style="top:249.3px">1000</div>
<div class="yl" style="top:194.9px">2000</div>
<div class="yl" style="top:140.4px">3000</div>
<div class="yl" style="top:85.9px">4000</div>
<div class="yl" style="top:31.5px">5000</div>
<div class="xl" style="left:72.2px">0</div>
<div class="xl" style="left:177.4px">100</div>
<div class="xl" style="left:282.5px">200</div>
<div class="xl" style="left:387.7px">300</div>
<div class="xl" style="left:492.8px">400</div>
<div class="xl" style="left:598.0px">500</div>
<div class="lt" style="top:232.6px">H2DS,<i>N</i>=36(6x6)</div>
<div class="lt" style="top:254.1px">H2DS,<i>N</i>=361(19x19)</div>
<div class="lt" style="top:275.5px">H2DD,<i>N</i>=36(6x6)</div>
<div class="lt" style="top:296.9px">H2DD,<i>N</i>=361(19x19)</div>
<div class="lt" style="top:318.4px">H2DT,<i>N</i>=36(6x6)</div>
<div class="lt" style="top:339.9px">H2DT,<i>N</i>=361(19x19)</div>
<div class="lt" style="top:361.3px">D3QN-SAC,<i>N</i>=361(19x19)</div>
<div class="lab" style="left:332px;top:421px;letter-spacing:0.5px">Episodes</div>
<div class="lab" style="left:-1px;top:192px;transform:rotate(-90deg);transform-origin:center;width:60px;text-align:center;letter-spacing:0.5px;left:-1px">Rewards</div>
<span class="cw" style="left:0.9px">Fig.</span>
<span class="cw" style="left:42.0px">3.</span>
<span class="cw" style="left:73.5px">The</span>
<span class="cw" style="left:113.4px">convergence</span>
<span class="cw" style="left:226.0px">of</span>
<span class="cw" style="left:252.0px">different</span>
<span class="cw" style="left:332.6px">schemes.</span>
</body></html>
